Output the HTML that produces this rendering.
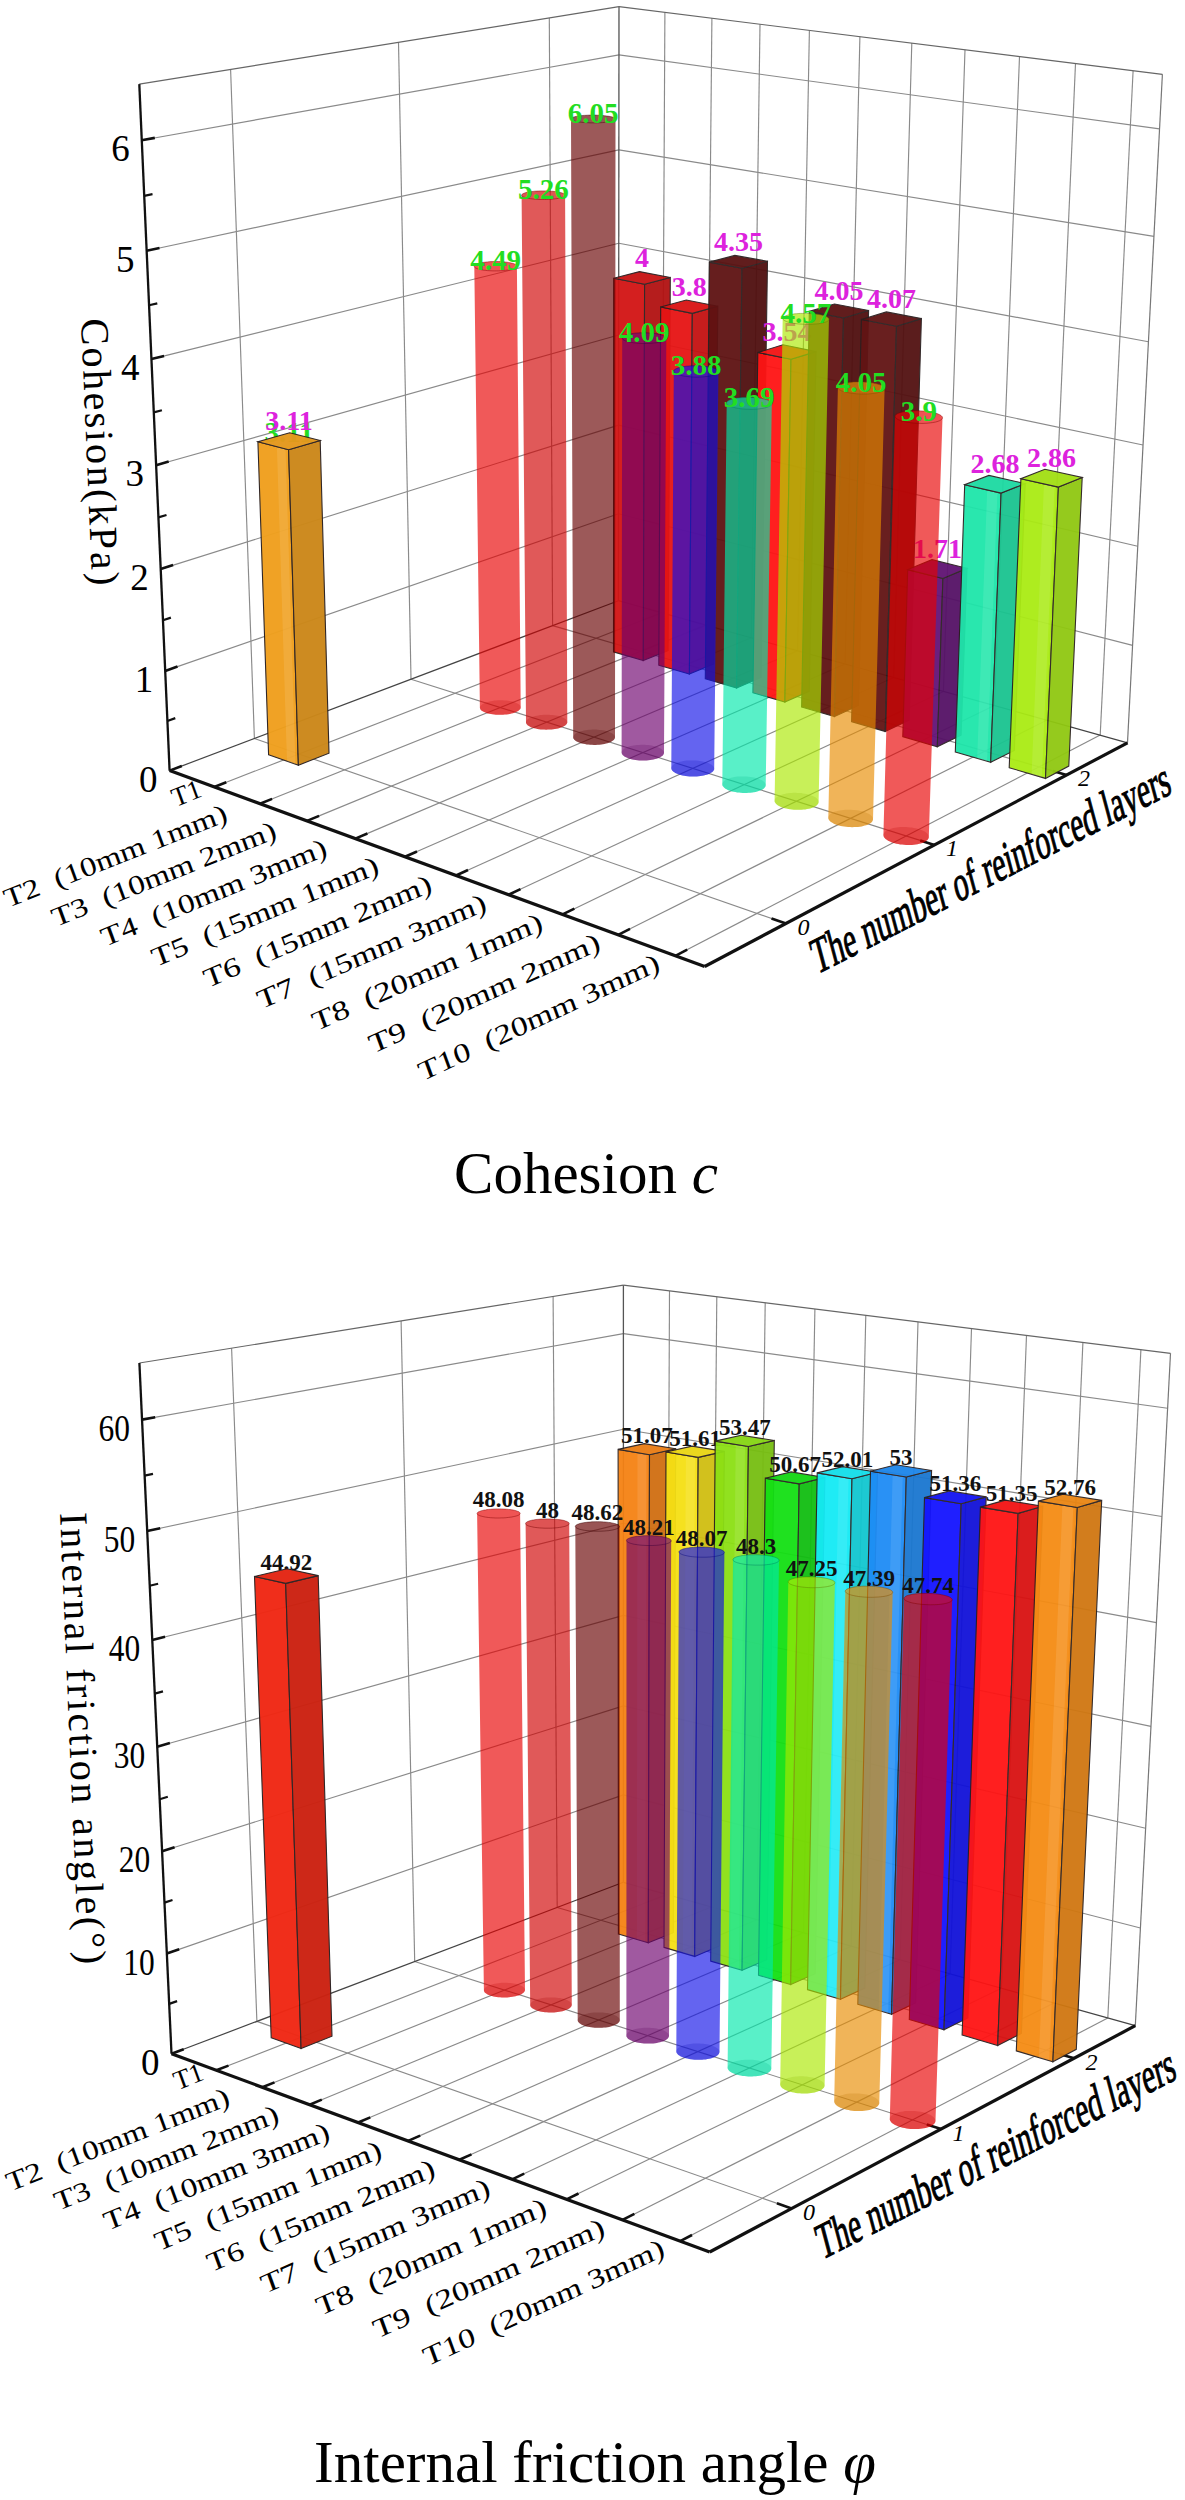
<!DOCTYPE html>
<html><head><meta charset="utf-8"><style>
html,body{margin:0;padding:0;background:#fff;}
svg{display:block;font-family:"Liberation Serif",serif;}
</style></head><body>
<svg width="1185" height="2500" viewBox="0 0 1185 2500">
<rect width="1185" height="2500" fill="#fff"/>
<line x1="254.4" y1="738.5" x2="230.6" y2="69.4" stroke="#8a8a8a" stroke-width="1.15"/>
<line x1="411.0" y1="679.2" x2="398.5" y2="42.3" stroke="#8a8a8a" stroke-width="1.15"/>
<line x1="552.6" y1="625.6" x2="549.3" y2="18.0" stroke="#8a8a8a" stroke-width="1.15"/>
<line x1="165.2" y1="670.9" x2="618.5" y2="513.7" stroke="#8a8a8a" stroke-width="1.15"/>
<line x1="160.7" y1="569.1" x2="618.6" y2="425.1" stroke="#8a8a8a" stroke-width="1.15"/>
<line x1="156.1" y1="465.2" x2="618.7" y2="335.0" stroke="#8a8a8a" stroke-width="1.15"/>
<line x1="151.4" y1="359.1" x2="618.8" y2="243.3" stroke="#8a8a8a" stroke-width="1.15"/>
<line x1="146.6" y1="250.8" x2="618.9" y2="149.9" stroke="#8a8a8a" stroke-width="1.15"/>
<line x1="141.7" y1="140.3" x2="619.0" y2="54.9" stroke="#8a8a8a" stroke-width="1.15"/>
<line x1="139.3" y1="84.1" x2="619.0" y2="6.7" stroke="#666" stroke-width="1.2"/>
<line x1="661.7" y1="612.8" x2="664.9" y2="12.4" stroke="#8a8a8a" stroke-width="1.15"/>
<line x1="706.0" y1="625.1" x2="711.9" y2="18.3" stroke="#8a8a8a" stroke-width="1.15"/>
<line x1="751.3" y1="637.8" x2="760.0" y2="24.3" stroke="#8a8a8a" stroke-width="1.15"/>
<line x1="797.6" y1="650.7" x2="809.4" y2="30.4" stroke="#8a8a8a" stroke-width="1.15"/>
<line x1="845.1" y1="664.0" x2="859.9" y2="36.7" stroke="#8a8a8a" stroke-width="1.15"/>
<line x1="893.7" y1="677.5" x2="911.8" y2="43.1" stroke="#8a8a8a" stroke-width="1.15"/>
<line x1="943.4" y1="691.4" x2="965.0" y2="49.8" stroke="#8a8a8a" stroke-width="1.15"/>
<line x1="994.4" y1="705.6" x2="1019.5" y2="56.5" stroke="#8a8a8a" stroke-width="1.15"/>
<line x1="1046.6" y1="720.2" x2="1075.5" y2="63.5" stroke="#8a8a8a" stroke-width="1.15"/>
<line x1="1100.2" y1="735.1" x2="1133.1" y2="70.7" stroke="#8a8a8a" stroke-width="1.15"/>
<line x1="618.5" y1="513.7" x2="1132.6" y2="645.4" stroke="#8a8a8a" stroke-width="1.15"/>
<line x1="618.6" y1="425.1" x2="1137.7" y2="546.2" stroke="#8a8a8a" stroke-width="1.15"/>
<line x1="618.7" y1="335.0" x2="1143.0" y2="445.0" stroke="#8a8a8a" stroke-width="1.15"/>
<line x1="618.8" y1="243.3" x2="1148.4" y2="341.8" stroke="#8a8a8a" stroke-width="1.15"/>
<line x1="618.9" y1="149.9" x2="1153.9" y2="236.4" stroke="#8a8a8a" stroke-width="1.15"/>
<line x1="619.0" y1="54.9" x2="1159.5" y2="128.9" stroke="#8a8a8a" stroke-width="1.15"/>
<line x1="619.0" y1="6.7" x2="1162.4" y2="74.3" stroke="#666" stroke-width="1.2"/>
<line x1="1127.5" y1="742.8" x2="1162.4" y2="74.3" stroke="#777" stroke-width="1.2"/>
<line x1="618.4" y1="600.7" x2="619.0" y2="6.7" stroke="#555" stroke-width="1.3"/>
<line x1="214.2" y1="787.0" x2="661.7" y2="612.8" stroke="#8a8a8a" stroke-width="1.15"/>
<line x1="260.0" y1="803.7" x2="706.0" y2="625.1" stroke="#8a8a8a" stroke-width="1.15"/>
<line x1="307.0" y1="820.9" x2="751.3" y2="637.8" stroke="#8a8a8a" stroke-width="1.15"/>
<line x1="355.3" y1="838.6" x2="797.6" y2="650.7" stroke="#8a8a8a" stroke-width="1.15"/>
<line x1="405.0" y1="856.8" x2="845.1" y2="664.0" stroke="#8a8a8a" stroke-width="1.15"/>
<line x1="456.0" y1="875.5" x2="893.7" y2="677.5" stroke="#8a8a8a" stroke-width="1.15"/>
<line x1="508.5" y1="894.7" x2="943.4" y2="691.4" stroke="#8a8a8a" stroke-width="1.15"/>
<line x1="562.6" y1="914.4" x2="994.4" y2="705.6" stroke="#8a8a8a" stroke-width="1.15"/>
<line x1="618.2" y1="934.8" x2="1046.6" y2="720.2" stroke="#8a8a8a" stroke-width="1.15"/>
<line x1="675.4" y1="955.8" x2="1100.2" y2="735.1" stroke="#8a8a8a" stroke-width="1.15"/>
<line x1="254.4" y1="738.5" x2="786.0" y2="923.5" stroke="#8a8a8a" stroke-width="1.15"/>
<line x1="411.0" y1="679.2" x2="934.4" y2="844.9" stroke="#8a8a8a" stroke-width="1.15"/>
<line x1="552.6" y1="625.6" x2="1066.6" y2="774.9" stroke="#8a8a8a" stroke-width="1.15"/>
<line x1="169.6" y1="770.6" x2="618.4" y2="600.7" stroke="#444" stroke-width="1.2"/>
<line x1="618.4" y1="600.7" x2="1127.5" y2="742.8" stroke="#444" stroke-width="1.2"/>
<line x1="169.6" y1="770.6" x2="139.3" y2="84.1" stroke="#111" stroke-width="2.3"/>
<line x1="169.6" y1="770.6" x2="704.7" y2="966.5" stroke="#111" stroke-width="3.2"/>
<line x1="704.7" y1="966.5" x2="1127.5" y2="742.8" stroke="#111" stroke-width="3.2"/>
<line x1="165.2" y1="670.9" x2="177.5" y2="666.6" stroke="#111" stroke-width="2.6"/>
<line x1="160.7" y1="569.1" x2="173.1" y2="565.1" stroke="#111" stroke-width="2.6"/>
<line x1="156.1" y1="465.2" x2="168.7" y2="461.6" stroke="#111" stroke-width="2.6"/>
<line x1="151.4" y1="359.1" x2="164.1" y2="356.0" stroke="#111" stroke-width="2.6"/>
<line x1="146.6" y1="250.8" x2="159.5" y2="248.1" stroke="#111" stroke-width="2.6"/>
<line x1="141.7" y1="140.3" x2="154.8" y2="137.9" stroke="#111" stroke-width="2.6"/>
<line x1="169.6" y1="770.6" x2="181.8" y2="766.0" stroke="#111" stroke-width="2.6"/>
<line x1="167.4" y1="721.0" x2="175.3" y2="718.1" stroke="#111" stroke-width="2.2"/>
<line x1="163.0" y1="620.2" x2="170.9" y2="617.6" stroke="#111" stroke-width="2.2"/>
<line x1="158.4" y1="517.4" x2="166.5" y2="515.0" stroke="#111" stroke-width="2.2"/>
<line x1="153.8" y1="412.4" x2="161.9" y2="410.3" stroke="#111" stroke-width="2.2"/>
<line x1="149.0" y1="305.3" x2="157.3" y2="303.4" stroke="#111" stroke-width="2.2"/>
<line x1="144.2" y1="195.8" x2="152.5" y2="194.2" stroke="#111" stroke-width="2.2"/>
<line x1="214.2" y1="787.0" x2="226.3" y2="782.2" stroke="#111" stroke-width="2.6"/>
<line x1="260.0" y1="803.7" x2="272.1" y2="798.9" stroke="#111" stroke-width="2.6"/>
<line x1="307.0" y1="820.9" x2="319.1" y2="815.9" stroke="#111" stroke-width="2.6"/>
<line x1="355.3" y1="838.6" x2="367.4" y2="833.5" stroke="#111" stroke-width="2.6"/>
<line x1="405.0" y1="856.8" x2="417.0" y2="851.5" stroke="#111" stroke-width="2.6"/>
<line x1="456.0" y1="875.5" x2="468.0" y2="870.0" stroke="#111" stroke-width="2.6"/>
<line x1="508.5" y1="894.7" x2="520.5" y2="889.1" stroke="#111" stroke-width="2.6"/>
<line x1="562.6" y1="914.4" x2="574.4" y2="908.7" stroke="#111" stroke-width="2.6"/>
<line x1="618.2" y1="934.8" x2="630.0" y2="928.9" stroke="#111" stroke-width="2.6"/>
<line x1="675.4" y1="955.8" x2="687.2" y2="949.7" stroke="#111" stroke-width="2.6"/>
<line x1="786.0" y1="923.5" x2="771.5" y2="918.4" stroke="#111" stroke-width="2.6"/>
<line x1="934.4" y1="844.9" x2="920.2" y2="840.4" stroke="#111" stroke-width="2.6"/>
<line x1="1066.6" y1="774.9" x2="1052.8" y2="770.9" stroke="#111" stroke-width="2.6"/>
<text x="642.0" y="266.9" fill="#dd22dd" font-size="28" font-weight="bold" text-anchor="middle">4</text>
<g opacity="0.95">
<polygon points="613.5,651.9 643.3,660.6 644.6,284.3 613.7,278.3" fill="#d21414" stroke="#2a2020" stroke-width="1.1"/>
<polygon points="643.3,660.6 668.1,650.6 670.3,277.5 644.6,284.3" fill="#b21111" stroke="#2a2020" stroke-width="1.1"/>
<polygon points="613.7,278.3 644.6,284.3 670.3,277.5 639.5,271.6" fill="#c81313" stroke="#2a2020" stroke-width="1.1"/>
</g>
<text x="689.3" y="295.6" fill="#dd22dd" font-size="28" font-weight="bold" text-anchor="middle">3.8</text>
<g opacity="0.95">
<polygon points="658.8,665.2 689.4,674.1 692.3,313.4 660.7,307.0" fill="#e61414" stroke="#2a2020" stroke-width="1.1"/>
<polygon points="689.4,674.1 714.0,663.8 717.8,306.2 692.3,313.4" fill="#c41111" stroke="#2a2020" stroke-width="1.1"/>
<polygon points="660.7,307.0 692.3,313.4 717.8,306.2 686.3,300.0" fill="#da1313" stroke="#2a2020" stroke-width="1.1"/>
</g>
<text x="738.4" y="250.7" fill="#dd22dd" font-size="28" font-weight="bold" text-anchor="middle">4.35</text>
<g opacity="0.95">
<polygon points="705.3,678.8 736.6,687.9 742.0,268.2 709.3,262.1" fill="#5e1212" stroke="#2a2020" stroke-width="1.1"/>
<polygon points="736.6,687.9 761.1,677.4 767.5,261.3 742.0,268.2" fill="#500f0f" stroke="#2a2020" stroke-width="1.1"/>
<polygon points="709.3,262.1 742.0,268.2 767.5,261.3 734.9,255.4" fill="#591111" stroke="#2a2020" stroke-width="1.1"/>
</g>
<text x="787.0" y="341.0" fill="#dd22dd" font-size="28" font-weight="bold" text-anchor="middle">3.54</text>
<g opacity="0.95">
<polygon points="752.9,692.7 784.9,702.1 791.0,359.3 757.8,352.5" fill="#ff1414" stroke="#2a2020" stroke-width="1.1"/>
<polygon points="784.9,702.1 809.3,691.3 816.1,351.6 791.0,359.3" fill="#d91111" stroke="#2a2020" stroke-width="1.1"/>
<polygon points="757.8,352.5 791.0,359.3 816.1,351.6 783.0,344.8" fill="#f21313" stroke="#2a2020" stroke-width="1.1"/>
</g>
<text x="839.0" y="300.0" fill="#dd22dd" font-size="28" font-weight="bold" text-anchor="middle">4.05</text>
<g opacity="0.95">
<polygon points="801.6,707.0 834.5,716.6 843.5,318.0 809.3,311.4" fill="#5e1212" stroke="#2a2020" stroke-width="1.1"/>
<polygon points="834.5,716.6 858.6,705.5 868.6,310.5 843.5,318.0" fill="#500f0f" stroke="#2a2020" stroke-width="1.1"/>
<polygon points="809.3,311.4 843.5,318.0 868.6,310.5 834.5,304.0" fill="#591111" stroke="#2a2020" stroke-width="1.1"/>
</g>
<text x="891.4" y="308.0" fill="#dd22dd" font-size="28" font-weight="bold" text-anchor="middle">4.07</text>
<g opacity="0.95">
<polygon points="851.6,721.6 885.2,731.4 896.5,326.2 861.4,319.5" fill="#621414" stroke="#2a2020" stroke-width="1.1"/>
<polygon points="885.2,731.4 909.2,720.1 921.4,318.6 896.5,326.2" fill="#531111" stroke="#2a2020" stroke-width="1.1"/>
<polygon points="861.4,319.5 896.5,326.2 921.4,318.6 886.4,311.9" fill="#5d1313" stroke="#2a2020" stroke-width="1.1"/>
</g>
<text x="937.4" y="558.0" fill="#dd22dd" font-size="28" font-weight="bold" text-anchor="middle">1.71</text>
<g opacity="0.95">
<polygon points="902.8,736.6 937.3,746.7 942.9,578.5 907.7,569.6" fill="#641478" stroke="#2a2020" stroke-width="1.1"/>
<polygon points="937.3,746.7 961.1,735.1 967.0,568.3 942.9,578.5" fill="#551166" stroke="#2a2020" stroke-width="1.1"/>
<polygon points="907.7,569.6 942.9,578.5 967.0,568.3 932.0,559.7" fill="#5f1372" stroke="#2a2020" stroke-width="1.1"/>
</g>
<text x="994.9" y="473.2" fill="#dd22dd" font-size="28" font-weight="bold" text-anchor="middle">2.68</text>
<g opacity="0.95">
<polygon points="955.3,752.0 990.7,762.3 1001.1,493.1 964.7,484.7" fill="#1ee6aa" stroke="#2a2020" stroke-width="1.1"/>
<polygon points="977.2,758.4 987.1,761.3 997.4,492.2 987.2,489.9" fill="#ffffff" opacity="0.10"/>
<polygon points="990.7,762.3 1014.3,750.4 1025.2,483.6 1001.1,493.1" fill="#1ac490" stroke="#2a2020" stroke-width="1.1"/>
<polygon points="964.7,484.7 1001.1,493.1 1025.2,483.6 988.9,475.4" fill="#1cdaa2" stroke="#2a2020" stroke-width="1.1"/>
</g>
<text x="1051.6" y="467.1" fill="#dd22dd" font-size="28" font-weight="bold" text-anchor="middle">2.86</text>
<g opacity="0.95">
<polygon points="1009.2,767.7 1045.5,778.4 1058.4,487.1 1020.9,478.7" fill="#aaeb14" stroke="#2a2020" stroke-width="1.1"/>
<polygon points="1031.6,774.3 1041.8,777.3 1054.6,486.3 1044.0,483.9" fill="#ffffff" opacity="0.10"/>
<polygon points="1045.5,778.4 1068.8,766.1 1082.2,477.5 1058.4,487.1" fill="#90c811" stroke="#2a2020" stroke-width="1.1"/>
<polygon points="1020.9,478.7 1058.4,487.1 1082.2,477.5 1044.9,469.3" fill="#a2df13" stroke="#2a2020" stroke-width="1.1"/>
</g>
<text x="289.1" y="442.1" fill="#22dd22" font-size="29" font-weight="bold" text-anchor="middle">3.11</text>
<g opacity="0.97">
<polygon points="268.6,754.8 298.4,765.2 288.6,449.7 257.9,441.7" fill="#f0a01e" stroke="#2a2020" stroke-width="1.1"/>
<polygon points="287.0,761.3 295.4,764.2 285.5,448.9 276.9,446.6" fill="#ffffff" opacity="0.10"/>
<polygon points="298.4,765.2 329.0,753.2 320.2,440.5 288.6,449.7" fill="#cc881a" stroke="#2a2020" stroke-width="1.1"/>
<polygon points="257.9,441.7 288.6,449.7 320.2,440.5 289.7,432.7" fill="#e4981c" stroke="#2a2020" stroke-width="1.1"/>
</g>
<text x="289.1" y="430.1" fill="#dd22dd" font-size="28" font-weight="bold" text-anchor="middle">3.11</text>
<g opacity="0.65">
<polygon points="479.9,708.0 474.3,266.5 474.3,266.1 474.4,265.7 474.8,265.2 475.3,264.8 475.9,264.5 476.7,264.1 477.6,263.7 478.7,263.4 479.9,263.1 481.2,262.8 482.6,262.5 484.1,262.3 485.7,262.1 487.4,261.9 489.2,261.7 490.9,261.6 492.8,261.6 494.6,261.5 496.4,261.5 498.3,261.5 500.1,261.6 501.9,261.7 503.6,261.8 505.3,262.0 506.9,262.2 508.4,262.4 509.9,262.7 511.2,263.0 512.4,263.3 513.5,263.6 514.4,263.9 515.2,264.3 515.8,264.7 516.3,265.1 516.7,265.5 516.8,265.9 516.9,266.3 520.7,707.6 520.6,708.2 520.3,708.9 519.8,709.5 519.2,710.1 518.5,710.7 517.6,711.2 516.6,711.8 515.5,712.3 514.2,712.8 512.9,713.2 511.4,713.6 509.9,713.9 508.2,714.2 506.6,714.4 504.8,714.6 503.1,714.7 501.3,714.8 499.5,714.8 497.7,714.8 495.9,714.7 494.2,714.5 492.5,714.3 490.9,714.1 489.3,713.8 487.9,713.4 486.5,713.0 485.2,712.6 484.1,712.1 483.1,711.6 482.2,711.0 481.4,710.5 480.8,709.9 480.4,709.3 480.1,708.6" fill="#e80000"/>
</g>
<polygon points="515.5,712.3 516.6,711.8 517.6,711.2 518.5,710.7 519.2,710.1 519.8,709.5 520.3,708.9 520.6,708.2 520.7,707.6 520.7,707.0 520.5,706.3 520.2,705.7 519.7,705.1 519.1,704.5 518.3,704.0 517.4,703.4 516.4,702.9 515.3,702.4 514.0,702.0 512.6,701.6 511.2,701.3 509.6,701.0 508.0,700.7 506.4,700.5 504.6,700.4 502.9,700.3 501.1,700.2 499.4,700.3 497.6,700.3 495.9,700.5 494.2,700.6 492.5,700.9 490.9,701.2 489.4,701.5 487.9,701.9 486.5,702.3 485.3,702.7 484.1,703.2 483.1,703.7 482.2,704.3 481.5,704.9 480.9,705.5 480.4,706.1 480.1,706.7 479.9,707.4 479.9,708.0 480.1,708.6 480.4,709.3 480.8,709.9 481.4,710.5 482.2,711.0 483.1,711.6 484.1,712.1 485.2,712.6 486.5,713.0 487.9,713.4 489.3,713.8 490.9,714.1 492.5,714.3 494.2,714.5 495.9,714.7 497.7,714.8 499.5,714.8 501.3,714.8 503.1,714.7 504.8,714.6 506.6,714.4 508.2,714.2 509.9,713.9 511.4,713.6 512.9,713.2 514.2,712.8" fill="#ba0000" opacity="0.22"/>
<polygon points="511.4,269.3 512.6,269.0 513.6,268.7 514.5,268.3 515.3,267.9 515.9,267.5 516.4,267.1 516.7,266.7 516.9,266.3 516.8,265.9 516.7,265.5 516.3,265.1 515.8,264.7 515.2,264.3 514.4,263.9 513.5,263.6 512.4,263.3 511.2,263.0 509.9,262.7 508.4,262.4 506.9,262.2 505.3,262.0 503.6,261.8 501.9,261.7 500.1,261.6 498.3,261.5 496.4,261.5 494.6,261.5 492.8,261.6 490.9,261.6 489.2,261.7 487.4,261.9 485.7,262.1 484.1,262.3 482.6,262.5 481.2,262.8 479.9,263.1 478.7,263.4 477.6,263.7 476.7,264.1 475.9,264.5 475.3,264.8 474.8,265.2 474.4,265.7 474.3,266.1 474.3,266.5 474.4,266.9 474.7,267.3 475.2,267.7 475.8,268.1 476.6,268.4 477.5,268.8 478.6,269.1 479.8,269.4 481.1,269.7 482.5,270.0 484.1,270.2 485.7,270.4 487.4,270.6 489.1,270.7 491.0,270.8 492.8,270.9 494.7,270.9 496.5,270.9 498.4,270.9 500.2,270.8 502.0,270.7 503.8,270.5 505.5,270.3 507.1,270.1 508.6,269.9 510.1,269.6" fill="#ed3333" fill-opacity="0.12" stroke="#800000" stroke-width="1" stroke-opacity="0.45"/>
<g opacity="0.65">
<polygon points="565.1,195.3 567.3,722.3 567.2,722.9 566.9,723.6 566.5,724.2 565.9,724.8 565.2,725.4 564.3,726.0 563.3,726.5 562.2,727.1 560.9,727.5 559.6,728.0 558.1,728.4 556.5,728.7 554.9,729.0 553.2,729.3 551.5,729.4 549.7,729.6 547.9,729.6 546.1,729.7 544.3,729.6 542.5,729.5 540.7,729.4 539.0,729.2 537.4,728.9 535.8,728.6 534.3,728.2 532.9,727.8 531.6,727.4 530.4,726.9 529.3,726.3 528.4,725.8 527.6,725.2 527.0,724.6 526.5,724.0 526.2,723.3 526.0,722.7 526.0,722.0 521.6,195.0 521.8,194.7 522.1,194.3 522.6,193.9 523.2,193.6 524.0,193.2 524.9,192.9 526.0,192.6 527.2,192.3 528.5,192.0 529.9,191.8 531.5,191.6 533.1,191.4 534.8,191.2 536.5,191.1 538.4,191.0 540.2,190.9 542.1,190.9 544.0,190.9 545.9,190.9 547.7,191.0 549.5,191.0 551.3,191.2 553.1,191.3 554.7,191.5 556.3,191.7 557.7,192.0 559.1,192.2 560.3,192.5 561.5,192.8 562.4,193.1 563.3,193.5 564.0,193.8 564.5,194.2 564.9,194.5 565.1,194.9" fill="#d00000"/>
</g>
<polygon points="562.2,727.1 563.3,726.5 564.3,726.0 565.2,725.4 565.9,724.8 566.5,724.2 566.9,723.6 567.2,722.9 567.3,722.3 567.2,721.6 567.0,721.0 566.7,720.3 566.2,719.7 565.5,719.1 564.7,718.5 563.8,718.0 562.7,717.5 561.5,717.0 560.3,716.5 558.9,716.1 557.4,715.8 555.8,715.5 554.2,715.2 552.5,715.0 550.7,714.9 549.0,714.8 547.2,714.7 545.4,714.7 543.6,714.8 541.8,714.9 540.1,715.1 538.4,715.4 536.8,715.7 535.3,716.0 533.8,716.4 532.5,716.8 531.2,717.3 530.1,717.8 529.1,718.3 528.2,718.9 527.5,719.5 526.9,720.1 526.4,720.7 526.1,721.4 526.0,722.0 526.0,722.7 526.2,723.3 526.5,724.0 527.0,724.6 527.6,725.2 528.4,725.8 529.3,726.3 530.4,726.9 531.6,727.4 532.9,727.8 534.3,728.2 535.8,728.6 537.4,728.9 539.0,729.2 540.7,729.4 542.5,729.5 544.3,729.6 546.1,729.7 547.9,729.6 549.7,729.6 551.5,729.4 553.2,729.3 554.9,729.0 556.5,728.7 558.1,728.4 559.6,728.0 560.9,727.5" fill="#a60000" opacity="0.22"/>
<polygon points="559.7,198.1 560.9,197.8 562.0,197.5 562.9,197.1 563.7,196.8 564.3,196.4 564.7,196.0 565.0,195.7 565.1,195.3 565.1,194.9 564.9,194.5 564.5,194.2 564.0,193.8 563.3,193.5 562.4,193.1 561.5,192.8 560.3,192.5 559.1,192.2 557.7,192.0 556.3,191.7 554.7,191.5 553.1,191.3 551.3,191.2 549.5,191.0 547.7,191.0 545.9,190.9 544.0,190.9 542.1,190.9 540.2,190.9 538.4,191.0 536.5,191.1 534.8,191.2 533.1,191.4 531.5,191.6 529.9,191.8 528.5,192.0 527.2,192.3 526.0,192.6 524.9,192.9 524.0,193.2 523.2,193.6 522.6,193.9 522.1,194.3 521.8,194.7 521.6,195.0 521.7,195.4 521.8,195.8 522.2,196.2 522.7,196.5 523.4,196.9 524.2,197.2 525.2,197.6 526.3,197.9 527.5,198.2 528.9,198.4 530.4,198.7 531.9,198.9 533.6,199.1 535.3,199.2 537.2,199.3 539.0,199.4 540.9,199.5 542.8,199.5 544.7,199.5 546.6,199.5 548.5,199.4 550.3,199.3 552.1,199.2 553.8,199.0 555.4,198.8 557.0,198.6 558.4,198.3" fill="#d93333" fill-opacity="0.12" stroke="#720000" stroke-width="1" stroke-opacity="0.45"/>
<g opacity="0.65">
<polygon points="615.5,119.1 615.0,737.3 614.9,738.0 614.7,738.6 614.3,739.3 613.7,739.9 613.0,740.5 612.2,741.1 611.2,741.7 610.0,742.2 608.8,742.7 607.4,743.2 606.0,743.6 604.4,743.9 602.8,744.2 601.1,744.5 599.3,744.7 597.5,744.8 595.7,744.9 593.9,744.9 592.0,744.8 590.2,744.7 588.4,744.6 586.7,744.4 585.0,744.1 583.4,743.8 581.9,743.4 580.4,743.0 579.1,742.5 577.9,742.0 576.8,741.5 575.8,740.9 575.0,740.3 574.3,739.7 573.8,739.0 573.4,738.4 573.2,737.7 573.2,737.0 571.0,118.8 571.2,118.5 571.4,118.2 571.9,117.8 572.5,117.5 573.3,117.2 574.2,116.9 575.3,116.6 576.5,116.4 577.8,116.1 579.2,115.9 580.8,115.7 582.4,115.5 584.2,115.4 585.9,115.3 587.8,115.2 589.7,115.1 591.6,115.1 593.5,115.1 595.4,115.1 597.3,115.2 599.2,115.3 601.0,115.4 602.8,115.5 604.5,115.7 606.1,115.9 607.6,116.1 609.1,116.3 610.4,116.6 611.5,116.8 612.5,117.1 613.4,117.4 614.2,117.8 614.7,118.1 615.1,118.4 615.4,118.8" fill="#670000"/>
</g>
<polygon points="610.0,742.2 611.2,741.7 612.2,741.1 613.0,740.5 613.7,739.9 614.3,739.3 614.7,738.6 614.9,738.0 615.0,737.3 614.9,736.6 614.7,736.0 614.3,735.3 613.8,734.7 613.1,734.1 612.3,733.5 611.3,732.9 610.2,732.4 609.0,731.9 607.7,731.4 606.2,731.0 604.7,730.6 603.1,730.3 601.4,730.1 599.7,729.9 597.9,729.7 596.2,729.6 594.3,729.6 592.5,729.6 590.7,729.7 589.0,729.8 587.2,730.0 585.5,730.2 583.9,730.5 582.4,730.9 580.9,731.3 579.6,731.7 578.3,732.2 577.2,732.7 576.2,733.2 575.3,733.8 574.6,734.4 574.0,735.1 573.6,735.7 573.3,736.4 573.2,737.0 573.2,737.7 573.4,738.4 573.8,739.0 574.3,739.7 575.0,740.3 575.8,740.9 576.8,741.5 577.9,742.0 579.1,742.5 580.4,743.0 581.9,743.4 583.4,743.8 585.0,744.1 586.7,744.4 588.4,744.6 590.2,744.7 592.0,744.8 593.9,744.9 595.7,744.9 597.5,744.8 599.3,744.7 601.1,744.5 602.8,744.2 604.4,743.9 606.0,743.6 607.4,743.2 608.8,742.7" fill="#520000" opacity="0.22"/>
<polygon points="610.2,121.6 611.4,121.3 612.4,121.0 613.3,120.7 614.1,120.4 614.7,120.1 615.1,119.8 615.4,119.4 615.5,119.1 615.4,118.8 615.1,118.4 614.7,118.1 614.2,117.8 613.4,117.4 612.5,117.1 611.5,116.8 610.4,116.6 609.1,116.3 607.6,116.1 606.1,115.9 604.5,115.7 602.8,115.5 601.0,115.4 599.2,115.3 597.3,115.2 595.4,115.1 593.5,115.1 591.6,115.1 589.7,115.1 587.8,115.2 585.9,115.3 584.2,115.4 582.4,115.5 580.8,115.7 579.2,115.9 577.8,116.1 576.5,116.4 575.3,116.6 574.2,116.9 573.3,117.2 572.5,117.5 571.9,117.8 571.4,118.2 571.2,118.5 571.0,118.8 571.1,119.2 571.3,119.5 571.7,119.8 572.2,120.2 572.9,120.5 573.8,120.8 574.8,121.1 576.0,121.4 577.3,121.6 578.7,121.9 580.2,122.1 581.8,122.3 583.6,122.5 585.4,122.6 587.2,122.7 589.1,122.8 591.0,122.9 593.0,122.9 594.9,122.9 596.9,122.8 598.8,122.8 600.6,122.7 602.5,122.6 604.2,122.4 605.8,122.2 607.4,122.0 608.8,121.8" fill="#853333" fill-opacity="0.12" stroke="#390000" stroke-width="1" stroke-opacity="0.45"/>
<g opacity="0.65">
<polygon points="621.6,752.5 622.2,338.0 622.3,337.5 622.5,337.0 623.0,336.6 623.5,336.1 624.3,335.7 625.2,335.3 626.2,334.9 627.4,334.6 628.7,334.2 630.1,333.9 631.6,333.7 633.2,333.4 634.9,333.2 636.7,333.0 638.5,332.9 640.4,332.8 642.2,332.8 644.2,332.8 646.1,332.8 648.0,332.9 649.8,333.0 651.7,333.1 653.4,333.3 655.1,333.5 656.8,333.8 658.3,334.1 659.7,334.4 661.0,334.8 662.2,335.1 663.2,335.5 664.1,336.0 664.9,336.4 665.5,336.8 665.9,337.3 666.2,337.8 666.3,338.2 664.0,752.7 663.9,753.4 663.7,754.1 663.3,754.7 662.8,755.4 662.1,756.0 661.2,756.6 660.2,757.2 659.1,757.8 657.9,758.3 656.5,758.7 655.1,759.1 653.5,759.5 651.9,759.8 650.2,760.1 648.4,760.3 646.6,760.4 644.7,760.5 642.9,760.5 641.0,760.5 639.2,760.4 637.4,760.2 635.6,760.0 633.9,759.7 632.2,759.4 630.6,759.0 629.2,758.6 627.8,758.1 626.6,757.6 625.4,757.0 624.4,756.4 623.6,755.8 622.9,755.2 622.3,754.5 621.9,753.8 621.7,753.1" fill="#6d006d"/>
</g>
<polygon points="659.1,757.8 660.2,757.2 661.2,756.6 662.1,756.0 662.8,755.4 663.3,754.7 663.7,754.1 663.9,753.4 664.0,752.7 663.9,752.0 663.6,751.3 663.2,750.7 662.6,750.0 661.9,749.4 661.0,748.8 660.0,748.2 658.9,747.7 657.6,747.1 656.3,746.7 654.8,746.3 653.3,745.9 651.6,745.6 649.9,745.3 648.2,745.1 646.4,744.9 644.6,744.8 642.7,744.8 640.9,744.8 639.1,744.9 637.3,745.0 635.5,745.2 633.8,745.5 632.2,745.8 630.6,746.1 629.2,746.5 627.8,747.0 626.6,747.5 625.5,748.0 624.5,748.6 623.6,749.2 622.9,749.8 622.4,750.4 621.9,751.1 621.7,751.8 621.6,752.5 621.7,753.1 621.9,753.8 622.3,754.5 622.9,755.2 623.6,755.8 624.4,756.4 625.4,757.0 626.6,757.6 627.8,758.1 629.2,758.6 630.6,759.0 632.2,759.4 633.9,759.7 635.6,760.0 637.4,760.2 639.2,760.4 641.0,760.5 642.9,760.5 644.7,760.5 646.6,760.4 648.4,760.3 650.2,760.1 651.9,759.8 653.5,759.5 655.1,759.1 656.5,758.7 657.9,758.3" fill="#570057" opacity="0.22"/>
<polygon points="661.3,341.7 662.4,341.3 663.5,340.9 664.3,340.5 665.1,340.1 665.6,339.6 666.0,339.2 666.2,338.7 666.3,338.2 666.2,337.8 665.9,337.3 665.5,336.8 664.9,336.4 664.1,336.0 663.2,335.5 662.2,335.1 661.0,334.8 659.7,334.4 658.3,334.1 656.8,333.8 655.1,333.5 653.4,333.3 651.7,333.1 649.8,333.0 648.0,332.9 646.1,332.8 644.2,332.8 642.2,332.8 640.4,332.8 638.5,332.9 636.7,333.0 634.9,333.2 633.2,333.4 631.6,333.7 630.1,333.9 628.7,334.2 627.4,334.6 626.2,334.9 625.2,335.3 624.3,335.7 623.5,336.1 623.0,336.6 622.5,337.0 622.3,337.5 622.2,338.0 622.3,338.4 622.5,338.9 622.9,339.4 623.5,339.8 624.2,340.3 625.1,340.7 626.2,341.1 627.3,341.5 628.6,341.8 630.1,342.1 631.6,342.4 633.2,342.7 634.9,342.9 636.7,343.1 638.6,343.3 640.5,343.4 642.4,343.5 644.3,343.5 646.3,343.5 648.2,343.4 650.1,343.3 651.9,343.2 653.7,343.0 655.4,342.8 657.0,342.6 658.6,342.3 660.0,342.0" fill="#8a338a" fill-opacity="0.12" stroke="#3c003c" stroke-width="1" stroke-opacity="0.45"/>
<g opacity="0.65">
<polygon points="671.3,768.3 673.8,371.3 673.9,370.8 674.1,370.3 674.5,369.8 675.1,369.3 675.8,368.9 676.7,368.5 677.7,368.1 678.8,367.7 680.1,367.3 681.5,367.0 683.0,366.7 684.7,366.5 686.4,366.2 688.1,366.1 690.0,365.9 691.8,365.8 693.8,365.8 695.7,365.8 697.6,365.8 699.5,365.9 701.4,366.0 703.3,366.2 705.1,366.4 706.8,366.6 708.5,366.9 710.1,367.2 711.5,367.5 712.9,367.9 714.1,368.3 715.2,368.7 716.1,369.1 716.9,369.6 717.5,370.1 718.0,370.5 718.3,371.0 718.4,371.5 714.2,768.5 714.2,769.2 714.0,769.9 713.6,770.6 713.1,771.3 712.4,771.9 711.6,772.6 710.6,773.1 709.5,773.7 708.3,774.2 706.9,774.7 705.4,775.1 703.9,775.5 702.2,775.8 700.5,776.1 698.7,776.3 696.9,776.4 695.0,776.5 693.1,776.5 691.3,776.5 689.4,776.4 687.5,776.2 685.7,776.0 684.0,775.7 682.3,775.4 680.7,775.0 679.2,774.5 677.8,774.0 676.5,773.5 675.3,772.9 674.3,772.3 673.4,771.7 672.7,771.0 672.1,770.4 671.7,769.7 671.4,769.0" fill="#1111e8"/>
</g>
<polygon points="709.5,773.7 710.6,773.1 711.6,772.6 712.4,771.9 713.1,771.3 713.6,770.6 714.0,769.9 714.2,769.2 714.2,768.5 714.1,767.8 713.8,767.1 713.3,766.4 712.7,765.8 712.0,765.1 711.1,764.5 710.0,763.9 708.8,763.3 707.5,762.8 706.1,762.3 704.6,761.9 703.1,761.5 701.4,761.2 699.6,760.9 697.9,760.7 696.0,760.5 694.2,760.4 692.3,760.4 690.5,760.4 688.6,760.5 686.8,760.6 685.1,760.8 683.4,761.1 681.7,761.4 680.2,761.7 678.7,762.2 677.4,762.6 676.1,763.1 675.0,763.7 674.0,764.3 673.2,764.9 672.5,765.5 671.9,766.2 671.6,766.9 671.3,767.6 671.3,768.3 671.4,769.0 671.7,769.7 672.1,770.4 672.7,771.0 673.4,771.7 674.3,772.3 675.3,772.9 676.5,773.5 677.8,774.0 679.2,774.5 680.7,775.0 682.3,775.4 684.0,775.7 685.7,776.0 687.5,776.2 689.4,776.4 691.3,776.5 693.1,776.5 695.0,776.5 696.9,776.4 698.7,776.3 700.5,776.1 702.2,775.8 703.9,775.5 705.4,775.1 706.9,774.7 708.3,774.2" fill="#0e0eba" opacity="0.22"/>
<polygon points="713.6,375.1 714.7,374.8 715.7,374.3 716.6,373.9 717.3,373.5 717.8,373.0 718.2,372.5 718.4,372.0 718.4,371.5 718.3,371.0 718.0,370.5 717.5,370.1 716.9,369.6 716.1,369.1 715.2,368.7 714.1,368.3 712.9,367.9 711.5,367.5 710.1,367.2 708.5,366.9 706.8,366.6 705.1,366.4 703.3,366.2 701.4,366.0 699.5,365.9 697.6,365.8 695.7,365.8 693.8,365.8 691.8,365.8 690.0,365.9 688.1,366.1 686.4,366.2 684.7,366.5 683.0,366.7 681.5,367.0 680.1,367.3 678.8,367.7 677.7,368.1 676.7,368.5 675.8,368.9 675.1,369.3 674.5,369.8 674.1,370.3 673.9,370.8 673.8,371.3 673.9,371.8 674.2,372.2 674.7,372.7 675.3,373.2 676.0,373.7 677.0,374.1 678.0,374.5 679.3,374.9 680.6,375.3 682.1,375.7 683.6,376.0 685.3,376.3 687.1,376.5 688.9,376.7 690.8,376.9 692.7,377.0 694.6,377.1 696.6,377.1 698.5,377.1 700.5,377.0 702.4,376.9 704.2,376.8 706.0,376.6 707.7,376.4 709.4,376.1 710.9,375.8 712.3,375.5" fill="#4141ed" fill-opacity="0.12" stroke="#090980" stroke-width="1" stroke-opacity="0.45"/>
<g opacity="0.65">
<polygon points="771.8,403.4 771.8,403.9 765.7,785.5 765.5,786.2 765.2,786.9 764.7,787.6 764.1,788.2 763.3,788.9 762.3,789.5 761.2,790.1 760.0,790.6 758.6,791.1 757.1,791.5 755.6,791.9 753.9,792.2 752.2,792.5 750.4,792.7 748.5,792.8 746.7,792.9 744.8,793.0 742.8,792.9 740.9,792.8 739.1,792.6 737.2,792.4 735.4,792.1 733.7,791.8 732.1,791.4 730.5,790.9 729.1,790.4 727.8,789.9 726.6,789.3 725.5,788.7 724.6,788.0 723.8,787.3 723.2,786.6 722.7,785.9 722.4,785.2 722.3,784.5 726.7,403.2 726.7,402.6 726.9,402.1 727.3,401.6 727.8,401.1 728.5,400.7 729.3,400.2 730.3,399.8 731.5,399.4 732.8,399.0 734.2,398.7 735.7,398.4 737.3,398.1 739.0,397.9 740.8,397.7 742.6,397.6 744.5,397.5 746.5,397.4 748.4,397.4 750.4,397.4 752.3,397.5 754.2,397.6 756.1,397.8 758.0,398.0 759.7,398.2 761.4,398.5 763.0,398.9 764.5,399.2 765.9,399.6 767.2,400.0 768.3,400.5 769.3,400.9 770.1,401.4 770.8,401.9 771.3,402.4 771.6,402.9" fill="#00e8ab"/>
</g>
<polygon points="761.2,790.1 762.3,789.5 763.3,788.9 764.1,788.2 764.7,787.6 765.2,786.9 765.5,786.2 765.7,785.5 765.7,784.7 765.6,784.0 765.2,783.3 764.7,782.6 764.1,781.9 763.3,781.2 762.4,780.6 761.3,780.0 760.1,779.4 758.8,778.9 757.3,778.4 755.8,777.9 754.1,777.6 752.4,777.2 750.7,776.9 748.9,776.7 747.0,776.5 745.1,776.4 743.2,776.4 741.4,776.4 739.5,776.5 737.7,776.6 735.9,776.8 734.2,777.1 732.5,777.4 731.0,777.8 729.5,778.2 728.2,778.7 726.9,779.2 725.8,779.8 724.9,780.4 724.0,781.0 723.4,781.7 722.8,782.4 722.5,783.1 722.3,783.8 722.3,784.5 722.4,785.2 722.7,785.9 723.2,786.6 723.8,787.3 724.6,788.0 725.5,788.7 726.6,789.3 727.8,789.9 729.1,790.4 730.5,790.9 732.1,791.4 733.7,791.8 735.4,792.1 737.2,792.4 739.1,792.6 740.9,792.8 742.8,792.9 744.8,793.0 746.7,792.9 748.5,792.8 750.4,792.7 752.2,792.5 753.9,792.2 755.6,791.9 757.1,791.5 758.6,791.1 760.0,790.6" fill="#00ba89" opacity="0.22"/>
<polygon points="767.1,407.2 768.3,406.8 769.3,406.4 770.1,405.9 770.8,405.5 771.3,405.0 771.6,404.5 771.8,403.9 771.8,403.4 771.6,402.9 771.3,402.4 770.8,401.9 770.1,401.4 769.3,400.9 768.3,400.5 767.2,400.0 765.9,399.6 764.5,399.2 763.0,398.9 761.4,398.5 759.7,398.2 758.0,398.0 756.1,397.8 754.2,397.6 752.3,397.5 750.4,397.4 748.4,397.4 746.5,397.4 744.5,397.5 742.6,397.6 740.8,397.7 739.0,397.9 737.3,398.1 735.7,398.4 734.2,398.7 732.8,399.0 731.5,399.4 730.3,399.8 729.3,400.2 728.5,400.7 727.8,401.1 727.3,401.6 726.9,402.1 726.7,402.6 726.7,403.2 726.8,403.7 727.1,404.2 727.6,404.7 728.3,405.2 729.1,405.7 730.0,406.2 731.1,406.6 732.4,407.0 733.8,407.4 735.3,407.8 736.9,408.1 738.6,408.4 740.4,408.7 742.2,408.9 744.1,409.0 746.1,409.2 748.1,409.2 750.1,409.3 752.0,409.3 754.0,409.2 755.9,409.1 757.8,409.0 759.6,408.8 761.3,408.5 762.9,408.3 764.4,408.0 765.8,407.6" fill="#33edbc" fill-opacity="0.12" stroke="#00805e" stroke-width="1" stroke-opacity="0.45"/>
<g opacity="0.65">
<polygon points="828.9,319.4 818.6,802.1 818.5,802.9 818.2,803.6 817.7,804.3 817.1,805.0 816.3,805.7 815.4,806.3 814.3,806.9 813.0,807.4 811.7,807.9 810.2,808.4 808.7,808.7 807.0,809.1 805.2,809.4 803.4,809.6 801.6,809.7 799.7,809.8 797.7,809.8 795.8,809.8 793.9,809.7 792.0,809.5 790.1,809.3 788.3,809.0 786.5,808.6 784.8,808.2 783.2,807.7 781.8,807.2 780.4,806.7 779.1,806.1 778.0,805.4 777.1,804.8 776.2,804.1 775.6,803.3 775.1,802.6 774.7,801.9 774.6,801.1 774.6,800.4 782.7,318.2 782.9,317.7 783.2,317.3 783.7,316.8 784.4,316.4 785.3,316.0 786.3,315.6 787.4,315.2 788.7,314.9 790.1,314.6 791.6,314.3 793.3,314.0 795.0,313.8 796.8,313.7 798.7,313.5 800.6,313.4 802.6,313.4 804.6,313.4 806.6,313.4 808.6,313.5 810.5,313.6 812.5,313.8 814.4,313.9 816.2,314.2 818.0,314.4 819.6,314.7 821.2,315.1 822.6,315.4 823.9,315.8 825.1,316.2 826.1,316.6 827.0,317.1 827.8,317.5 828.3,318.0 828.7,318.5 828.9,319.0" fill="#abe800"/>
</g>
<polygon points="814.3,806.9 815.4,806.3 816.3,805.7 817.1,805.0 817.7,804.3 818.2,803.6 818.5,802.9 818.6,802.1 818.6,801.4 818.4,800.7 818.1,799.9 817.5,799.2 816.9,798.5 816.0,797.8 815.0,797.1 813.9,796.5 812.7,795.9 811.3,795.4 809.8,794.9 808.2,794.4 806.6,794.0 804.8,793.7 803.0,793.4 801.2,793.1 799.3,793.0 797.4,792.9 795.5,792.8 793.6,792.8 791.7,792.9 789.9,793.1 788.1,793.3 786.3,793.6 784.7,793.9 783.1,794.3 781.7,794.7 780.3,795.2 779.1,795.7 778.0,796.3 777.0,796.9 776.2,797.6 775.6,798.2 775.1,798.9 774.7,799.7 774.6,800.4 774.6,801.1 774.7,801.9 775.1,802.6 775.6,803.3 776.2,804.1 777.1,804.8 778.0,805.4 779.1,806.1 780.4,806.7 781.8,807.2 783.2,807.7 784.8,808.2 786.5,808.6 788.3,809.0 790.1,809.3 792.0,809.5 793.9,809.7 795.8,809.8 797.7,809.8 799.7,809.8 801.6,809.7 803.4,809.6 805.2,809.4 807.0,809.1 808.7,808.7 810.2,808.4 811.7,807.9 813.0,807.4" fill="#89ba00" opacity="0.22"/>
<polygon points="824.4,322.5 825.5,322.1 826.5,321.7 827.3,321.3 828.0,320.8 828.5,320.4 828.8,319.9 828.9,319.4 828.9,319.0 828.7,318.5 828.3,318.0 827.8,317.5 827.0,317.1 826.1,316.6 825.1,316.2 823.9,315.8 822.6,315.4 821.2,315.1 819.6,314.7 818.0,314.4 816.2,314.2 814.4,313.9 812.5,313.8 810.5,313.6 808.6,313.5 806.6,313.4 804.6,313.4 802.6,313.4 800.6,313.4 798.7,313.5 796.8,313.7 795.0,313.8 793.3,314.0 791.6,314.3 790.1,314.6 788.7,314.9 787.4,315.2 786.3,315.6 785.3,316.0 784.4,316.4 783.7,316.8 783.2,317.3 782.9,317.7 782.7,318.2 782.7,318.7 782.9,319.2 783.2,319.6 783.8,320.1 784.5,320.6 785.3,321.0 786.4,321.5 787.5,321.9 788.8,322.3 790.3,322.6 791.8,323.0 793.5,323.3 795.3,323.5 797.1,323.8 799.0,324.0 801.0,324.1 803.0,324.2 805.0,324.3 807.1,324.3 809.1,324.3 811.1,324.3 813.0,324.2 814.9,324.0 816.8,323.9 818.5,323.7 820.2,323.4 821.7,323.1 823.1,322.8" fill="#bced33" fill-opacity="0.12" stroke="#5e8000" stroke-width="1" stroke-opacity="0.45"/>
<g opacity="0.65">
<polygon points="884.6,388.6 873.0,819.3 872.9,820.0 872.6,820.8 872.2,821.5 871.6,822.2 870.8,822.9 869.9,823.5 868.8,824.1 867.6,824.7 866.2,825.2 864.7,825.6 863.2,826.1 861.5,826.4 859.7,826.7 857.9,826.9 856.0,827.1 854.1,827.1 852.1,827.2 850.2,827.1 848.2,827.0 846.3,826.8 844.4,826.6 842.5,826.3 840.7,825.9 839.0,825.5 837.4,825.0 835.8,824.5 834.4,823.9 833.1,823.3 832.0,822.6 831.0,822.0 830.1,821.2 829.4,820.5 828.9,819.8 828.5,819.0 828.3,818.2 828.3,817.5 837.9,387.3 838.0,386.8 838.3,386.3 838.8,385.8 839.5,385.3 840.3,384.8 841.3,384.4 842.4,384.0 843.7,383.6 845.1,383.3 846.6,383.0 848.2,382.7 849.9,382.5 851.8,382.3 853.6,382.1 855.6,382.0 857.6,382.0 859.6,382.0 861.6,382.0 863.6,382.1 865.6,382.2 867.6,382.4 869.5,382.6 871.4,382.8 873.1,383.1 874.8,383.5 876.4,383.8 877.9,384.2 879.3,384.6 880.5,385.1 881.6,385.5 882.5,386.0 883.2,386.5 883.8,387.1 884.3,387.6 884.5,388.1" fill="#e88c00"/>
</g>
<polygon points="868.8,824.1 869.9,823.5 870.8,822.9 871.6,822.2 872.2,821.5 872.6,820.8 872.9,820.0 873.0,819.3 872.9,818.5 872.7,817.7 872.3,817.0 871.8,816.2 871.0,815.5 870.2,814.8 869.1,814.1 868.0,813.5 866.7,812.9 865.3,812.3 863.7,811.8 862.1,811.3 860.4,810.9 858.6,810.6 856.8,810.3 854.9,810.0 853.0,809.9 851.1,809.7 849.1,809.7 847.2,809.7 845.3,809.8 843.4,810.0 841.6,810.2 839.9,810.4 838.2,810.8 836.7,811.2 835.2,811.6 833.9,812.1 832.6,812.7 831.6,813.3 830.6,813.9 829.8,814.6 829.2,815.3 828.7,816.0 828.4,816.7 828.3,817.5 828.3,818.2 828.5,819.0 828.9,819.8 829.4,820.5 830.1,821.2 831.0,822.0 832.0,822.6 833.1,823.3 834.4,823.9 835.8,824.5 837.4,825.0 839.0,825.5 840.7,825.9 842.5,826.3 844.4,826.6 846.3,826.8 848.2,827.0 850.2,827.1 852.1,827.2 854.1,827.1 856.0,827.1 857.9,826.9 859.7,826.7 861.5,826.4 863.2,826.1 864.7,825.6 866.2,825.2 867.6,824.7" fill="#ba7000" opacity="0.22"/>
<polygon points="880.2,392.0 881.3,391.5 882.3,391.1 883.1,390.6 883.7,390.2 884.2,389.7 884.5,389.1 884.6,388.6 884.5,388.1 884.3,387.6 883.8,387.1 883.2,386.5 882.5,386.0 881.6,385.5 880.5,385.1 879.3,384.6 877.9,384.2 876.4,383.8 874.8,383.5 873.1,383.1 871.4,382.8 869.5,382.6 867.6,382.4 865.6,382.2 863.6,382.1 861.6,382.0 859.6,382.0 857.6,382.0 855.6,382.0 853.6,382.1 851.8,382.3 849.9,382.5 848.2,382.7 846.6,383.0 845.1,383.3 843.7,383.6 842.4,384.0 841.3,384.4 840.3,384.8 839.5,385.3 838.8,385.8 838.3,386.3 838.0,386.8 837.9,387.3 837.9,387.8 838.1,388.3 838.5,388.9 839.1,389.4 839.8,389.9 840.7,390.4 841.8,390.9 843.0,391.3 844.4,391.7 845.8,392.1 847.4,392.5 849.1,392.8 850.9,393.1 852.8,393.4 854.8,393.6 856.7,393.8 858.8,393.9 860.8,394.0 862.9,394.0 864.9,394.0 866.9,394.0 868.9,393.9 870.8,393.7 872.6,393.5 874.4,393.3 876.0,393.0 877.5,392.7 878.9,392.3" fill="#eda333" fill-opacity="0.12" stroke="#804d00" stroke-width="1" stroke-opacity="0.45"/>
<g opacity="0.65">
<polygon points="883.4,835.0 895.1,416.3 895.2,415.8 895.5,415.2 896.0,414.7 896.6,414.2 897.4,413.7 898.4,413.3 899.5,412.9 900.7,412.5 902.1,412.1 903.6,411.8 905.3,411.5 907.0,411.3 908.8,411.1 910.7,410.9 912.7,410.8 914.7,410.8 916.7,410.7 918.8,410.8 920.8,410.9 922.9,411.0 924.9,411.2 926.8,411.4 928.7,411.6 930.5,412.0 932.3,412.3 933.9,412.7 935.4,413.1 936.8,413.5 938.1,414.0 939.2,414.5 940.2,415.0 941.0,415.5 941.6,416.1 942.1,416.6 942.4,417.1 942.5,417.7 928.8,836.9 928.8,837.6 928.5,838.4 928.1,839.1 927.5,839.9 926.7,840.6 925.8,841.2 924.8,841.8 923.6,842.4 922.2,842.9 920.8,843.4 919.2,843.8 917.5,844.2 915.7,844.5 913.9,844.7 912.0,844.9 910.0,845.0 908.1,845.0 906.1,844.9 904.1,844.8 902.1,844.6 900.2,844.4 898.3,844.1 896.4,843.7 894.7,843.3 893.0,842.8 891.4,842.2 890.0,841.6 888.6,841.0 887.4,840.3 886.4,839.6 885.5,838.9 884.7,838.1 884.2,837.4 883.7,836.6 883.5,835.8" fill="#e80000"/>
</g>
<polygon points="924.8,841.8 925.8,841.2 926.7,840.6 927.5,839.9 928.1,839.1 928.5,838.4 928.8,837.6 928.8,836.9 928.7,836.1 928.5,835.3 928.0,834.5 927.4,833.8 926.7,833.0 925.8,832.3 924.7,831.6 923.5,830.9 922.1,830.3 920.7,829.7 919.1,829.2 917.5,828.7 915.7,828.3 913.9,827.9 912.0,827.6 910.1,827.4 908.1,827.2 906.2,827.1 904.2,827.0 902.3,827.0 900.3,827.1 898.5,827.3 896.6,827.5 894.9,827.8 893.2,828.1 891.7,828.5 890.2,829.0 888.9,829.5 887.6,830.1 886.6,830.7 885.6,831.3 884.9,832.0 884.3,832.7 883.8,833.5 883.5,834.2 883.4,835.0 883.5,835.8 883.7,836.6 884.2,837.4 884.7,838.1 885.5,838.9 886.4,839.6 887.4,840.3 888.6,841.0 890.0,841.6 891.4,842.2 893.0,842.8 894.7,843.3 896.4,843.7 898.3,844.1 900.2,844.4 902.1,844.6 904.1,844.8 906.1,844.9 908.1,845.0 910.0,845.0 912.0,844.9 913.9,844.7 915.7,844.5 917.5,844.2 919.2,843.8 920.8,843.4 922.2,842.9 923.6,842.4" fill="#ba0000" opacity="0.22"/>
<polygon points="938.3,421.2 939.4,420.8 940.4,420.3 941.1,419.8 941.7,419.3 942.2,418.8 942.4,418.2 942.5,417.7 942.4,417.1 942.1,416.6 941.6,416.1 941.0,415.5 940.2,415.0 939.2,414.5 938.1,414.0 936.8,413.5 935.4,413.1 933.9,412.7 932.3,412.3 930.5,412.0 928.7,411.6 926.8,411.4 924.9,411.2 922.9,411.0 920.8,410.9 918.8,410.8 916.7,410.7 914.7,410.8 912.7,410.8 910.7,410.9 908.8,411.1 907.0,411.3 905.3,411.5 903.6,411.8 902.1,412.1 900.7,412.5 899.5,412.9 898.4,413.3 897.4,413.7 896.6,414.2 896.0,414.7 895.5,415.2 895.2,415.8 895.1,416.3 895.2,416.9 895.5,417.4 895.9,418.0 896.5,418.5 897.3,419.0 898.2,419.6 899.4,420.1 900.6,420.5 902.0,421.0 903.5,421.4 905.2,421.8 906.9,422.1 908.8,422.4 910.7,422.7 912.7,422.9 914.7,423.1 916.8,423.2 918.8,423.3 920.9,423.4 923.0,423.4 925.0,423.3 927.0,423.2 928.9,423.0 930.7,422.8 932.5,422.6 934.1,422.3 935.7,422.0 937.1,421.6" fill="#ed3333" fill-opacity="0.12" stroke="#800000" stroke-width="1" stroke-opacity="0.45"/>
<text x="495.6" y="270.2" fill="#22dd22" font-size="29" font-weight="bold" text-anchor="middle">4.49</text>
<text x="543.4" y="199.2" fill="#22dd22" font-size="29" font-weight="bold" text-anchor="middle">5.26</text>
<text x="593.2" y="123.0" fill="#22dd22" font-size="29" font-weight="bold" text-anchor="middle">6.05</text>
<text x="644.2" y="342.1" fill="#22dd22" font-size="29" font-weight="bold" text-anchor="middle">4.09</text>
<text x="696.1" y="375.4" fill="#22dd22" font-size="29" font-weight="bold" text-anchor="middle">3.88</text>
<text x="749.2" y="407.3" fill="#22dd22" font-size="29" font-weight="bold" text-anchor="middle">3.69</text>
<text x="805.8" y="322.8" fill="#22dd22" font-size="29" font-weight="bold" text-anchor="middle">4.57</text>
<text x="861.2" y="392.0" fill="#22dd22" font-size="29" font-weight="bold" text-anchor="middle">4.05</text>
<text x="918.8" y="421.0" fill="#22dd22" font-size="29" font-weight="bold" text-anchor="middle">3.9</text>
<text transform="translate(157.6,791.6) scale(1.0,1)" font-size="37" text-anchor="end">0</text>
<text transform="translate(153.2,691.9) scale(1.0,1)" font-size="37" text-anchor="end">1</text>
<text transform="translate(148.7,590.1) scale(1.0,1)" font-size="37" text-anchor="end">2</text>
<text transform="translate(144.1,486.2) scale(1.0,1)" font-size="37" text-anchor="end">3</text>
<text transform="translate(139.4,380.1) scale(1.0,1)" font-size="37" text-anchor="end">4</text>
<text transform="translate(134.6,271.8) scale(1.0,1)" font-size="37" text-anchor="end">5</text>
<text transform="translate(129.7,161.3) scale(1.0,1)" font-size="37" text-anchor="end">6</text>
<clipPath id="clipT1"><rect x="0" y="0" width="1185" height="1094"/></clipPath><g clip-path="url(#clipT1)">
<text transform="matrix(0.927,-0.375,0.342,0.94,203.2,796.0)" font-size="27" text-anchor="end">T1</text>
<text transform="matrix(0.930,-0.367,0.342,0.94,229.0,820.7)" font-size="27" text-anchor="end" textLength="238" lengthAdjust="spacingAndGlyphs">T2  (10mm 1mm)</text>
<text transform="matrix(0.928,-0.374,0.342,0.94,278.1,837.5)" font-size="27" text-anchor="end" textLength="240" lengthAdjust="spacingAndGlyphs">T3  (10mm 2mm)</text>
<text transform="matrix(0.925,-0.381,0.342,0.94,328.6,854.9)" font-size="27" text-anchor="end" textLength="242" lengthAdjust="spacingAndGlyphs">T4  (10mm 3mm)</text>
<text transform="matrix(0.922,-0.388,0.342,0.94,380.4,872.7)" font-size="27" text-anchor="end" textLength="244" lengthAdjust="spacingAndGlyphs">T5  (15mm 1mm)</text>
<text transform="matrix(0.919,-0.395,0.342,0.94,433.5,891.0)" font-size="27" text-anchor="end" textLength="246" lengthAdjust="spacingAndGlyphs">T6  (15mm 2mm)</text>
<text transform="matrix(0.916,-0.402,0.342,0.94,488.2,909.8)" font-size="27" text-anchor="end" textLength="248" lengthAdjust="spacingAndGlyphs">T7  (15mm 3mm)</text>
<text transform="matrix(0.913,-0.409,0.342,0.94,544.3,929.2)" font-size="27" text-anchor="end" textLength="250" lengthAdjust="spacingAndGlyphs">T8  (20mm 1mm)</text>
<text transform="matrix(0.910,-0.416,0.342,0.94,602.0,949.2)" font-size="27" text-anchor="end" textLength="252" lengthAdjust="spacingAndGlyphs">T9  (20mm 2mm)</text>
<text transform="matrix(0.906,-0.423,0.342,0.94,661.4,969.8)" font-size="27" text-anchor="end" textLength="264" lengthAdjust="spacingAndGlyphs">T10  (20mm 3mm)</text>
</g>
<text x="803.5" y="935.0" font-size="24" font-style="italic" text-anchor="middle">0</text>
<text x="951.9" y="856.4" font-size="24" font-style="italic" text-anchor="middle">1</text>
<text x="1084.1" y="786.4" font-size="24" font-style="italic" text-anchor="middle">2</text>
<text transform="matrix(0.891,-0.454,0.259,0.966,816.7,974.5)" font-size="50" stroke="#000" stroke-width="1.1" textLength="400" lengthAdjust="spacingAndGlyphs">The number of reinforced layers</text>
<text transform="translate(81,319) rotate(87.6)" font-size="40" textLength="267" lengthAdjust="spacing">Cohesion(kPa)</text>
<line x1="256.9" y1="2021.4" x2="231.6" y2="1348.2" stroke="#8a8a8a" stroke-width="1.15"/>
<line x1="414.7" y1="1961.5" x2="401.1" y2="1320.9" stroke="#8a8a8a" stroke-width="1.15"/>
<line x1="557.2" y1="1907.5" x2="553.1" y2="1296.5" stroke="#8a8a8a" stroke-width="1.15"/>
<line x1="166.8" y1="1953.6" x2="623.4" y2="1794.9" stroke="#8a8a8a" stroke-width="1.15"/>
<line x1="162.1" y1="1851.2" x2="623.4" y2="1705.9" stroke="#8a8a8a" stroke-width="1.15"/>
<line x1="157.2" y1="1746.7" x2="623.4" y2="1615.4" stroke="#8a8a8a" stroke-width="1.15"/>
<line x1="152.3" y1="1640.0" x2="623.4" y2="1523.2" stroke="#8a8a8a" stroke-width="1.15"/>
<line x1="147.2" y1="1531.0" x2="623.4" y2="1429.3" stroke="#8a8a8a" stroke-width="1.15"/>
<line x1="142.0" y1="1419.6" x2="623.4" y2="1333.6" stroke="#8a8a8a" stroke-width="1.15"/>
<line x1="139.4" y1="1363.0" x2="623.4" y2="1285.2" stroke="#666" stroke-width="1.2"/>
<line x1="666.9" y1="1894.5" x2="669.5" y2="1290.9" stroke="#8a8a8a" stroke-width="1.15"/>
<line x1="711.4" y1="1907.0" x2="716.8" y2="1296.8" stroke="#8a8a8a" stroke-width="1.15"/>
<line x1="756.9" y1="1919.7" x2="765.2" y2="1302.8" stroke="#8a8a8a" stroke-width="1.15"/>
<line x1="803.5" y1="1932.8" x2="814.9" y2="1309.0" stroke="#8a8a8a" stroke-width="1.15"/>
<line x1="851.2" y1="1946.2" x2="865.8" y2="1315.3" stroke="#8a8a8a" stroke-width="1.15"/>
<line x1="900.1" y1="1959.8" x2="918.0" y2="1321.8" stroke="#8a8a8a" stroke-width="1.15"/>
<line x1="950.1" y1="1973.9" x2="971.5" y2="1328.5" stroke="#8a8a8a" stroke-width="1.15"/>
<line x1="1001.4" y1="1988.2" x2="1026.5" y2="1335.3" stroke="#8a8a8a" stroke-width="1.15"/>
<line x1="1054.0" y1="2002.9" x2="1082.9" y2="1342.4" stroke="#8a8a8a" stroke-width="1.15"/>
<line x1="1107.8" y1="2018.0" x2="1140.9" y2="1349.6" stroke="#8a8a8a" stroke-width="1.15"/>
<line x1="623.4" y1="1794.9" x2="1140.4" y2="1928.0" stroke="#8a8a8a" stroke-width="1.15"/>
<line x1="623.4" y1="1705.9" x2="1145.6" y2="1828.2" stroke="#8a8a8a" stroke-width="1.15"/>
<line x1="623.4" y1="1615.4" x2="1150.9" y2="1726.4" stroke="#8a8a8a" stroke-width="1.15"/>
<line x1="623.4" y1="1523.2" x2="1156.4" y2="1622.6" stroke="#8a8a8a" stroke-width="1.15"/>
<line x1="623.4" y1="1429.3" x2="1161.9" y2="1516.5" stroke="#8a8a8a" stroke-width="1.15"/>
<line x1="623.4" y1="1333.6" x2="1167.6" y2="1408.2" stroke="#8a8a8a" stroke-width="1.15"/>
<line x1="623.4" y1="1285.2" x2="1170.5" y2="1353.3" stroke="#666" stroke-width="1.2"/>
<line x1="1135.3" y1="2025.7" x2="1170.5" y2="1353.3" stroke="#777" stroke-width="1.2"/>
<line x1="623.4" y1="1882.3" x2="623.4" y2="1285.2" stroke="#555" stroke-width="1.3"/>
<line x1="216.3" y1="2070.3" x2="666.9" y2="1894.5" stroke="#8a8a8a" stroke-width="1.15"/>
<line x1="262.3" y1="2087.3" x2="711.4" y2="1907.0" stroke="#8a8a8a" stroke-width="1.15"/>
<line x1="309.6" y1="2104.7" x2="756.9" y2="1919.7" stroke="#8a8a8a" stroke-width="1.15"/>
<line x1="358.1" y1="2122.5" x2="803.5" y2="1932.8" stroke="#8a8a8a" stroke-width="1.15"/>
<line x1="408.1" y1="2140.9" x2="851.2" y2="1946.2" stroke="#8a8a8a" stroke-width="1.15"/>
<line x1="459.4" y1="2159.8" x2="900.1" y2="1959.8" stroke="#8a8a8a" stroke-width="1.15"/>
<line x1="512.2" y1="2179.3" x2="950.1" y2="1973.9" stroke="#8a8a8a" stroke-width="1.15"/>
<line x1="566.6" y1="2199.3" x2="1001.4" y2="1988.2" stroke="#8a8a8a" stroke-width="1.15"/>
<line x1="622.5" y1="2219.9" x2="1054.0" y2="2002.9" stroke="#8a8a8a" stroke-width="1.15"/>
<line x1="680.2" y1="2241.1" x2="1107.8" y2="2018.0" stroke="#8a8a8a" stroke-width="1.15"/>
<line x1="256.9" y1="2021.4" x2="791.6" y2="2208.4" stroke="#8a8a8a" stroke-width="1.15"/>
<line x1="414.7" y1="1961.5" x2="941.1" y2="2129.0" stroke="#8a8a8a" stroke-width="1.15"/>
<line x1="557.2" y1="1907.5" x2="1074.1" y2="2058.2" stroke="#8a8a8a" stroke-width="1.15"/>
<line x1="171.5" y1="2053.8" x2="623.4" y2="1882.3" stroke="#444" stroke-width="1.2"/>
<line x1="623.4" y1="1882.3" x2="1135.3" y2="2025.7" stroke="#444" stroke-width="1.2"/>
<line x1="171.5" y1="2053.8" x2="139.4" y2="1363.0" stroke="#111" stroke-width="2.3"/>
<line x1="171.5" y1="2053.8" x2="709.7" y2="2252.0" stroke="#111" stroke-width="3.2"/>
<line x1="709.7" y1="2252.0" x2="1135.3" y2="2025.7" stroke="#111" stroke-width="3.2"/>
<line x1="166.8" y1="1953.6" x2="179.2" y2="1949.3" stroke="#111" stroke-width="2.6"/>
<line x1="162.1" y1="1851.2" x2="174.6" y2="1847.3" stroke="#111" stroke-width="2.6"/>
<line x1="157.2" y1="1746.7" x2="169.9" y2="1743.1" stroke="#111" stroke-width="2.6"/>
<line x1="152.3" y1="1640.0" x2="165.1" y2="1636.8" stroke="#111" stroke-width="2.6"/>
<line x1="147.2" y1="1531.0" x2="160.2" y2="1528.2" stroke="#111" stroke-width="2.6"/>
<line x1="142.0" y1="1419.6" x2="155.2" y2="1417.2" stroke="#111" stroke-width="2.6"/>
<line x1="171.5" y1="2053.8" x2="183.7" y2="2049.2" stroke="#111" stroke-width="2.6"/>
<line x1="169.2" y1="2003.9" x2="177.1" y2="2001.1" stroke="#111" stroke-width="2.2"/>
<line x1="164.5" y1="1902.6" x2="172.5" y2="1900.0" stroke="#111" stroke-width="2.2"/>
<line x1="159.7" y1="1799.2" x2="167.8" y2="1796.8" stroke="#111" stroke-width="2.2"/>
<line x1="154.8" y1="1693.6" x2="163.0" y2="1691.4" stroke="#111" stroke-width="2.2"/>
<line x1="149.7" y1="1585.8" x2="158.1" y2="1583.8" stroke="#111" stroke-width="2.2"/>
<line x1="144.6" y1="1475.6" x2="153.0" y2="1473.9" stroke="#111" stroke-width="2.2"/>
<line x1="216.3" y1="2070.3" x2="228.5" y2="2065.6" stroke="#111" stroke-width="2.6"/>
<line x1="262.3" y1="2087.3" x2="274.5" y2="2082.4" stroke="#111" stroke-width="2.6"/>
<line x1="309.6" y1="2104.7" x2="321.8" y2="2099.6" stroke="#111" stroke-width="2.6"/>
<line x1="358.1" y1="2122.5" x2="370.3" y2="2117.4" stroke="#111" stroke-width="2.6"/>
<line x1="408.1" y1="2140.9" x2="420.2" y2="2135.6" stroke="#111" stroke-width="2.6"/>
<line x1="459.4" y1="2159.8" x2="471.5" y2="2154.4" stroke="#111" stroke-width="2.6"/>
<line x1="512.2" y1="2179.3" x2="524.2" y2="2173.6" stroke="#111" stroke-width="2.6"/>
<line x1="566.6" y1="2199.3" x2="578.5" y2="2193.5" stroke="#111" stroke-width="2.6"/>
<line x1="622.5" y1="2219.9" x2="634.4" y2="2213.9" stroke="#111" stroke-width="2.6"/>
<line x1="680.2" y1="2241.1" x2="692.0" y2="2235.0" stroke="#111" stroke-width="2.6"/>
<line x1="791.6" y1="2208.4" x2="776.9" y2="2203.3" stroke="#111" stroke-width="2.6"/>
<line x1="941.1" y1="2129.0" x2="926.8" y2="2124.4" stroke="#111" stroke-width="2.6"/>
<line x1="1074.1" y1="2058.2" x2="1060.2" y2="2054.2" stroke="#111" stroke-width="2.6"/>
<text x="646.9" y="1443.1" fill="#111" font-size="23" font-weight="bold" text-anchor="middle">51.07</text>
<g opacity="0.95">
<polygon points="618.4,1934.0 648.3,1942.8 649.5,1454.7 618.1,1449.4" fill="#f58214" stroke="#2a2020" stroke-width="1.1"/>
<polygon points="636.9,1939.4 645.3,1941.9 646.4,1454.2 637.5,1452.7" fill="#ffffff" opacity="0.10"/>
<polygon points="648.3,1942.8 673.3,1932.7 675.7,1448.8 649.5,1454.7" fill="#d06e11" stroke="#2a2020" stroke-width="1.1"/>
<polygon points="618.1,1449.4 649.5,1454.7 675.7,1448.8 644.3,1443.6" fill="#e97c13" stroke="#2a2020" stroke-width="1.1"/>
</g>
<text x="695.1" y="1445.7" fill="#111" font-size="23" font-weight="bold" text-anchor="middle">51.61</text>
<g opacity="0.95">
<polygon points="664.0,1947.4 694.7,1956.4 698.2,1457.4 666.0,1452.0" fill="#f5e014" stroke="#2a2020" stroke-width="1.1"/>
<polygon points="682.9,1952.9 691.6,1955.5 695.0,1456.8 685.9,1455.3" fill="#ffffff" opacity="0.10"/>
<polygon points="694.7,1956.4 719.5,1946.0 724.3,1451.4 698.2,1457.4" fill="#d0be11" stroke="#2a2020" stroke-width="1.1"/>
<polygon points="666.0,1452.0 698.2,1457.4 724.3,1451.4 692.1,1446.1" fill="#e9d513" stroke="#2a2020" stroke-width="1.1"/>
</g>
<text x="744.8" y="1434.8" fill="#111" font-size="23" font-weight="bold" text-anchor="middle">53.47</text>
<g opacity="0.95">
<polygon points="710.7,1961.1 742.1,1970.3 748.4,1446.5 715.2,1441.1" fill="#8ce014" stroke="#2a2020" stroke-width="1.1"/>
<polygon points="730.1,1966.8 738.9,1969.4 745.0,1446.0 735.7,1444.5" fill="#ffffff" opacity="0.10"/>
<polygon points="742.1,1970.3 766.8,1959.7 774.3,1440.5 748.4,1446.5" fill="#77be11" stroke="#2a2020" stroke-width="1.1"/>
<polygon points="715.2,1441.1 748.4,1446.5 774.3,1440.5 741.2,1435.3" fill="#85d513" stroke="#2a2020" stroke-width="1.1"/>
</g>
<text x="795.1" y="1471.9" fill="#111" font-size="23" font-weight="bold" text-anchor="middle">50.67</text>
<g opacity="0.95">
<polygon points="758.5,1975.2 790.7,1984.6 799.2,1483.9 765.3,1478.2" fill="#14e014" stroke="#2a2020" stroke-width="1.1"/>
<polygon points="790.7,1984.6 815.2,1973.7 824.9,1477.5 799.2,1483.9" fill="#11be11" stroke="#2a2020" stroke-width="1.1"/>
<polygon points="765.3,1478.2 799.2,1483.9 824.9,1477.5 791.1,1471.9" fill="#13d513" stroke="#2a2020" stroke-width="1.1"/>
</g>
<text x="847.4" y="1466.6" fill="#111" font-size="23" font-weight="bold" text-anchor="middle">52.01</text>
<g opacity="0.95">
<polygon points="807.5,1989.6 840.5,1999.3 852.0,1478.7 817.2,1472.9" fill="#14eaf5" stroke="#2a2020" stroke-width="1.1"/>
<polygon points="827.9,1995.6 837.2,1998.3 848.5,1478.1 838.7,1476.5" fill="#ffffff" opacity="0.10"/>
<polygon points="840.5,1999.3 864.9,1988.1 877.5,1472.2 852.0,1478.7" fill="#11c7d0" stroke="#2a2020" stroke-width="1.1"/>
<polygon points="817.2,1472.9 852.0,1478.7 877.5,1472.2 842.8,1466.6" fill="#13dee9" stroke="#2a2020" stroke-width="1.1"/>
</g>
<text x="901.0" y="1464.8" fill="#111" font-size="23" font-weight="bold" text-anchor="middle">53</text>
<g opacity="0.95">
<polygon points="857.8,2004.3 891.6,2014.3 906.3,1477.0 870.5,1471.2" fill="#1e8cf5" stroke="#2a2020" stroke-width="1.1"/>
<polygon points="878.7,2010.5 888.2,2013.3 902.7,1476.4 892.6,1474.8" fill="#ffffff" opacity="0.10"/>
<polygon points="891.6,2014.3 915.7,2002.8 931.6,1470.5 906.3,1477.0" fill="#1a77d0" stroke="#2a2020" stroke-width="1.1"/>
<polygon points="870.5,1471.2 906.3,1477.0 931.6,1470.5 895.9,1464.8" fill="#1c85e9" stroke="#2a2020" stroke-width="1.1"/>
</g>
<text x="955.4" y="1491.3" fill="#111" font-size="23" font-weight="bold" text-anchor="middle">51.36</text>
<g opacity="0.95">
<polygon points="909.3,2019.5 944.0,2029.7 961.2,1503.8 924.5,1497.6" fill="#1414ff" stroke="#2a2020" stroke-width="1.1"/>
<polygon points="944.0,2029.7 967.9,2017.9 986.2,1496.9 961.2,1503.8" fill="#1111d9" stroke="#2a2020" stroke-width="1.1"/>
<polygon points="924.5,1497.6 961.2,1503.8 986.2,1496.9 949.6,1490.9" fill="#1313f2" stroke="#2a2020" stroke-width="1.1"/>
</g>
<text x="1011.6" y="1500.7" fill="#111" font-size="23" font-weight="bold" text-anchor="middle">51.35</text>
<g opacity="0.95">
<polygon points="962.1,2035.0 997.7,2045.5 1018.1,1513.4 980.4,1507.1" fill="#ff1414" stroke="#2a2020" stroke-width="1.1"/>
<polygon points="997.7,2045.5 1021.4,2033.4 1042.8,1506.3 1018.1,1513.4" fill="#d91111" stroke="#2a2020" stroke-width="1.1"/>
<polygon points="980.4,1507.1 1018.1,1513.4 1042.8,1506.3 1005.3,1500.1" fill="#f21313" stroke="#2a2020" stroke-width="1.1"/>
</g>
<text x="1070.1" y="1494.8" fill="#111" font-size="23" font-weight="bold" text-anchor="middle">52.76</text>
<g opacity="0.95">
<polygon points="1016.3,2050.9 1052.9,2061.7 1077.3,1507.5 1038.4,1501.1" fill="#f58c14" stroke="#2a2020" stroke-width="1.1"/>
<polygon points="1038.9,2057.6 1049.2,2060.6 1073.3,1506.8 1062.4,1505.1" fill="#ffffff" opacity="0.10"/>
<polygon points="1052.9,2061.7 1076.3,2049.3 1101.7,1500.4 1077.3,1507.5" fill="#d07711" stroke="#2a2020" stroke-width="1.1"/>
<polygon points="1038.4,1501.1 1077.3,1507.5 1101.7,1500.4 1063.1,1494.2" fill="#e98513" stroke="#2a2020" stroke-width="1.1"/>
</g>
<text x="286.4" y="1570.1" fill="#111" font-size="23" font-weight="bold" text-anchor="middle">44.92</text>
<g opacity="0.97">
<polygon points="271.2,2037.8 301.1,2048.4 285.7,1583.4 254.5,1576.5" fill="#f02814" stroke="#2a2020" stroke-width="1.1"/>
<polygon points="301.1,2048.4 332.0,2036.2 318.2,1575.6 285.7,1583.4" fill="#cc2211" stroke="#2a2020" stroke-width="1.1"/>
<polygon points="254.5,1576.5 285.7,1583.4 318.2,1575.6 287.0,1568.8" fill="#e42613" stroke="#2a2020" stroke-width="1.1"/>
</g>
<g opacity="0.65">
<polygon points="483.9,1990.6 477.1,1513.7 477.1,1513.3 477.3,1512.9 477.6,1512.5 478.1,1512.1 478.8,1511.7 479.6,1511.4 480.5,1511.0 481.6,1510.7 482.8,1510.4 484.1,1510.1 485.6,1509.9 487.1,1509.6 488.7,1509.4 490.4,1509.3 492.2,1509.1 494.0,1509.0 495.8,1508.9 497.7,1508.9 499.5,1508.9 501.4,1508.9 503.2,1509.0 505.0,1509.1 506.8,1509.2 508.5,1509.4 510.1,1509.6 511.6,1509.8 513.1,1510.0 514.4,1510.3 515.6,1510.6 516.7,1510.9 517.6,1511.3 518.5,1511.6 519.1,1512.0 519.6,1512.4 519.9,1512.7 520.1,1513.1 520.1,1513.5 525.0,1990.2 524.8,1990.8 524.5,1991.5 524.1,1992.1 523.5,1992.7 522.7,1993.3 521.8,1993.9 520.8,1994.4 519.7,1994.9 518.4,1995.4 517.0,1995.8 515.6,1996.2 514.0,1996.5 512.4,1996.8 510.7,1997.1 509.0,1997.2 507.2,1997.4 505.4,1997.5 503.6,1997.5 501.8,1997.4 500.0,1997.3 498.3,1997.2 496.6,1997.0 494.9,1996.7 493.4,1996.4 491.9,1996.1 490.5,1995.6 489.3,1995.2 488.1,1994.7 487.1,1994.2 486.2,1993.6 485.4,1993.1 484.8,1992.5 484.4,1991.9 484.1,1991.2" fill="#e80000"/>
</g>
<polygon points="519.7,1994.9 520.8,1994.4 521.8,1993.9 522.7,1993.3 523.5,1992.7 524.1,1992.1 524.5,1991.5 524.8,1990.8 525.0,1990.2 524.9,1989.6 524.8,1988.9 524.4,1988.3 524.0,1987.7 523.3,1987.1 522.6,1986.5 521.7,1986.0 520.6,1985.5 519.5,1985.0 518.2,1984.5 516.8,1984.1 515.4,1983.8 513.8,1983.5 512.2,1983.2 510.5,1983.0 508.8,1982.9 507.1,1982.8 505.3,1982.8 503.5,1982.8 501.7,1982.8 500.0,1983.0 498.3,1983.2 496.6,1983.4 495.0,1983.7 493.4,1984.0 492.0,1984.4 490.6,1984.8 489.3,1985.3 488.2,1985.8 487.2,1986.3 486.3,1986.9 485.5,1987.4 484.9,1988.0 484.4,1988.7 484.1,1989.3 483.9,1989.9 483.9,1990.6 484.1,1991.2 484.4,1991.9 484.8,1992.5 485.4,1993.1 486.2,1993.6 487.1,1994.2 488.1,1994.7 489.3,1995.2 490.5,1995.6 491.9,1996.1 493.4,1996.4 494.9,1996.7 496.6,1997.0 498.3,1997.2 500.0,1997.3 501.8,1997.4 503.6,1997.5 505.4,1997.5 507.2,1997.4 509.0,1997.2 510.7,1997.1 512.4,1996.8 514.0,1996.5 515.6,1996.2 517.0,1995.8 518.4,1995.4" fill="#ba0000" opacity="0.22"/>
<polygon points="514.6,1516.4 515.8,1516.1 516.8,1515.8 517.8,1515.5 518.6,1515.1 519.2,1514.7 519.7,1514.3 520.0,1513.9 520.1,1513.5 520.1,1513.1 519.9,1512.7 519.6,1512.4 519.1,1512.0 518.5,1511.6 517.6,1511.3 516.7,1510.9 515.6,1510.6 514.4,1510.3 513.1,1510.0 511.6,1509.8 510.1,1509.6 508.5,1509.4 506.8,1509.2 505.0,1509.1 503.2,1509.0 501.4,1508.9 499.5,1508.9 497.7,1508.9 495.8,1508.9 494.0,1509.0 492.2,1509.1 490.4,1509.3 488.7,1509.4 487.1,1509.6 485.6,1509.9 484.1,1510.1 482.8,1510.4 481.6,1510.7 480.5,1511.0 479.6,1511.4 478.8,1511.7 478.1,1512.1 477.6,1512.5 477.3,1512.9 477.1,1513.3 477.1,1513.7 477.2,1514.1 477.6,1514.5 478.0,1514.8 478.7,1515.2 479.5,1515.6 480.4,1515.9 481.5,1516.2 482.7,1516.5 484.0,1516.8 485.4,1517.1 487.0,1517.3 488.6,1517.5 490.3,1517.7 492.1,1517.8 493.9,1517.9 495.8,1518.0 497.7,1518.0 499.6,1518.0 501.5,1517.9 503.3,1517.9 505.1,1517.8 506.9,1517.6 508.6,1517.4 510.3,1517.2 511.8,1517.0 513.2,1516.7" fill="#ed3333" fill-opacity="0.12" stroke="#800000" stroke-width="1" stroke-opacity="0.45"/>
<g opacity="0.65">
<polygon points="569.2,1523.7 571.8,2005.0 571.6,2005.7 571.4,2006.3 570.9,2007.0 570.4,2007.6 569.6,2008.2 568.8,2008.8 567.7,2009.3 566.6,2009.8 565.3,2010.3 564.0,2010.8 562.5,2011.2 560.9,2011.5 559.3,2011.8 557.6,2012.0 555.9,2012.2 554.1,2012.4 552.2,2012.4 550.4,2012.5 548.6,2012.4 546.8,2012.3 545.0,2012.2 543.3,2012.0 541.6,2011.7 540.1,2011.4 538.5,2011.0 537.1,2010.6 535.8,2010.1 534.6,2009.6 533.6,2009.1 532.7,2008.5 531.9,2008.0 531.2,2007.3 530.7,2006.7 530.4,2006.1 530.2,2005.4 530.2,2004.7 525.6,1523.4 525.7,1523.0 526.1,1522.6 526.5,1522.2 527.2,1521.8 527.9,1521.4 528.9,1521.1 530.0,1520.7 531.2,1520.4 532.5,1520.1 533.9,1519.9 535.5,1519.6 537.1,1519.4 538.8,1519.3 540.6,1519.1 542.4,1519.0 544.2,1518.9 546.1,1518.9 548.0,1518.9 549.9,1518.9 551.7,1519.0 553.6,1519.1 555.4,1519.2 557.1,1519.4 558.7,1519.6 560.3,1519.8 561.8,1520.0 563.2,1520.3 564.4,1520.6 565.5,1521.0 566.5,1521.3 567.3,1521.7 568.0,1522.1 568.6,1522.4 568.9,1522.8 569.1,1523.2" fill="#d00000"/>
</g>
<polygon points="566.6,2009.8 567.7,2009.3 568.8,2008.8 569.6,2008.2 570.4,2007.6 570.9,2007.0 571.4,2006.3 571.6,2005.7 571.8,2005.0 571.7,2004.3 571.5,2003.7 571.2,2003.0 570.7,2002.4 570.0,2001.8 569.2,2001.2 568.3,2000.7 567.2,2000.1 566.0,1999.7 564.7,1999.2 563.3,1998.8 561.8,1998.4 560.2,1998.1 558.6,1997.9 556.9,1997.7 555.1,1997.5 553.3,1997.4 551.5,1997.4 549.7,1997.4 548.0,1997.5 546.2,1997.6 544.4,1997.8 542.8,1998.0 541.1,1998.3 539.6,1998.7 538.1,1999.0 536.8,1999.5 535.5,1999.9 534.4,2000.5 533.3,2001.0 532.4,2001.6 531.7,2002.2 531.1,2002.8 530.7,2003.4 530.4,2004.1 530.2,2004.7 530.2,2005.4 530.4,2006.1 530.7,2006.7 531.2,2007.3 531.9,2008.0 532.7,2008.5 533.6,2009.1 534.6,2009.6 535.8,2010.1 537.1,2010.6 538.5,2011.0 540.1,2011.4 541.6,2011.7 543.3,2012.0 545.0,2012.2 546.8,2012.3 548.6,2012.4 550.4,2012.5 552.2,2012.4 554.1,2012.4 555.9,2012.2 557.6,2012.0 559.3,2011.8 560.9,2011.5 562.5,2011.2 564.0,2010.8 565.3,2010.3" fill="#a60000" opacity="0.22"/>
<polygon points="563.8,1526.6 565.0,1526.3 566.0,1526.0 566.9,1525.6 567.7,1525.2 568.3,1524.9 568.8,1524.5 569.1,1524.1 569.2,1523.7 569.1,1523.2 568.9,1522.8 568.6,1522.4 568.0,1522.1 567.3,1521.7 566.5,1521.3 565.5,1521.0 564.4,1520.6 563.2,1520.3 561.8,1520.0 560.3,1519.8 558.7,1519.6 557.1,1519.4 555.4,1519.2 553.6,1519.1 551.7,1519.0 549.9,1518.9 548.0,1518.9 546.1,1518.9 544.2,1518.9 542.4,1519.0 540.6,1519.1 538.8,1519.3 537.1,1519.4 535.5,1519.6 533.9,1519.9 532.5,1520.1 531.2,1520.4 530.0,1520.7 528.9,1521.1 527.9,1521.4 527.2,1521.8 526.5,1522.2 526.1,1522.6 525.7,1523.0 525.6,1523.4 525.6,1523.8 525.8,1524.2 526.1,1524.6 526.6,1525.0 527.3,1525.4 528.1,1525.8 529.1,1526.1 530.2,1526.4 531.5,1526.7 532.8,1527.0 534.3,1527.3 535.9,1527.5 537.6,1527.7 539.3,1527.9 541.1,1528.0 543.0,1528.1 544.9,1528.2 546.8,1528.2 548.7,1528.2 550.6,1528.2 552.5,1528.1 554.3,1528.0 556.1,1527.8 557.8,1527.7 559.5,1527.4 561.0,1527.2 562.4,1526.9" fill="#d93333" fill-opacity="0.12" stroke="#720000" stroke-width="1" stroke-opacity="0.45"/>
<g opacity="0.65">
<polygon points="619.5,1526.6 619.8,2020.2 619.7,2020.9 619.4,2021.5 619.0,2022.2 618.4,2022.8 617.7,2023.5 616.9,2024.0 615.9,2024.6 614.7,2025.1 613.5,2025.6 612.1,2026.1 610.6,2026.5 609.1,2026.9 607.4,2027.2 605.7,2027.4 603.9,2027.6 602.1,2027.7 600.3,2027.8 598.5,2027.8 596.6,2027.8 594.8,2027.7 593.0,2027.5 591.2,2027.3 589.5,2027.1 587.9,2026.7 586.4,2026.4 584.9,2025.9 583.6,2025.5 582.4,2024.9 581.3,2024.4 580.3,2023.8 579.5,2023.2 578.8,2022.6 578.3,2021.9 577.9,2021.3 577.7,2020.6 577.7,2019.9 575.3,1526.3 575.4,1525.9 575.7,1525.5 576.2,1525.1 576.8,1524.7 577.6,1524.3 578.5,1524.0 579.6,1523.6 580.7,1523.3 582.1,1523.0 583.5,1522.7 585.0,1522.5 586.7,1522.3 588.4,1522.1 590.2,1522.0 592.0,1521.8 593.9,1521.8 595.8,1521.7 597.7,1521.7 599.6,1521.7 601.5,1521.8 603.4,1521.9 605.2,1522.0 607.0,1522.2 608.6,1522.4 610.3,1522.6 611.8,1522.9 613.2,1523.2 614.5,1523.5 615.6,1523.8 616.6,1524.2 617.5,1524.6 618.2,1524.9 618.8,1525.3 619.2,1525.7 619.5,1526.2" fill="#670000"/>
</g>
<polygon points="614.7,2025.1 615.9,2024.6 616.9,2024.0 617.7,2023.5 618.4,2022.8 619.0,2022.2 619.4,2021.5 619.7,2020.9 619.8,2020.2 619.7,2019.5 619.5,2018.8 619.1,2018.2 618.5,2017.5 617.8,2016.9 617.0,2016.3 616.0,2015.7 614.9,2015.2 613.7,2014.7 612.4,2014.2 610.9,2013.8 609.4,2013.5 607.8,2013.1 606.1,2012.9 604.4,2012.7 602.6,2012.5 600.8,2012.4 599.0,2012.4 597.1,2012.4 595.3,2012.5 593.6,2012.6 591.8,2012.8 590.1,2013.0 588.5,2013.3 586.9,2013.7 585.5,2014.1 584.1,2014.5 582.8,2015.0 581.7,2015.5 580.7,2016.1 579.8,2016.7 579.1,2017.3 578.5,2017.9 578.1,2018.6 577.8,2019.3 577.7,2019.9 577.7,2020.6 577.9,2021.3 578.3,2021.9 578.8,2022.6 579.5,2023.2 580.3,2023.8 581.3,2024.4 582.4,2024.9 583.6,2025.5 584.9,2025.9 586.4,2026.4 587.9,2026.7 589.5,2027.1 591.2,2027.3 593.0,2027.5 594.8,2027.7 596.6,2027.8 598.5,2027.8 600.3,2027.8 602.1,2027.7 603.9,2027.6 605.7,2027.4 607.4,2027.2 609.1,2026.9 610.6,2026.5 612.1,2026.1 613.5,2025.6" fill="#520000" opacity="0.22"/>
<polygon points="614.2,1529.6 615.4,1529.3 616.5,1528.9 617.4,1528.6 618.1,1528.2 618.7,1527.8 619.2,1527.4 619.4,1527.0 619.5,1526.6 619.5,1526.2 619.2,1525.7 618.8,1525.3 618.2,1524.9 617.5,1524.6 616.6,1524.2 615.6,1523.8 614.5,1523.5 613.2,1523.2 611.8,1522.9 610.3,1522.6 608.6,1522.4 607.0,1522.2 605.2,1522.0 603.4,1521.9 601.5,1521.8 599.6,1521.7 597.7,1521.7 595.8,1521.7 593.9,1521.8 592.0,1521.8 590.2,1522.0 588.4,1522.1 586.7,1522.3 585.0,1522.5 583.5,1522.7 582.1,1523.0 580.7,1523.3 579.6,1523.6 578.5,1524.0 577.6,1524.3 576.8,1524.7 576.2,1525.1 575.7,1525.5 575.4,1525.9 575.3,1526.3 575.4,1526.7 575.6,1527.1 576.0,1527.5 576.5,1527.9 577.2,1528.3 578.1,1528.7 579.1,1529.1 580.2,1529.4 581.5,1529.7 582.9,1530.0 584.4,1530.3 586.1,1530.5 587.8,1530.7 589.6,1530.9 591.4,1531.0 593.3,1531.1 595.2,1531.2 597.1,1531.2 599.1,1531.2 601.0,1531.2 602.9,1531.1 604.8,1531.0 606.6,1530.8 608.3,1530.7 609.9,1530.4 611.5,1530.2 612.9,1529.9" fill="#853333" fill-opacity="0.12" stroke="#390000" stroke-width="1" stroke-opacity="0.45"/>
<g opacity="0.65">
<polygon points="671.2,1540.7 669.0,2035.8 668.9,2036.4 668.7,2037.1 668.3,2037.8 667.8,2038.5 667.1,2039.1 666.2,2039.7 665.2,2040.3 664.1,2040.9 662.9,2041.4 661.5,2041.8 660.0,2042.2 658.4,2042.6 656.8,2042.9 655.1,2043.2 653.3,2043.4 651.5,2043.5 649.6,2043.6 647.7,2043.6 645.9,2043.6 644.0,2043.5 642.2,2043.3 640.4,2043.1 638.7,2042.8 637.0,2042.5 635.4,2042.1 634.0,2041.7 632.6,2041.2 631.3,2040.6 630.2,2040.1 629.2,2039.5 628.3,2038.9 627.6,2038.2 627.1,2037.6 626.7,2036.9 626.4,2036.2 626.4,2035.5 626.5,1540.4 626.6,1540.0 626.8,1539.6 627.2,1539.2 627.8,1538.8 628.6,1538.4 629.5,1538.0 630.5,1537.7 631.7,1537.3 633.0,1537.0 634.5,1536.7 636.0,1536.5 637.7,1536.3 639.4,1536.1 641.2,1535.9 643.0,1535.8 644.9,1535.7 646.8,1535.7 648.8,1535.7 650.7,1535.7 652.6,1535.8 654.5,1535.9 656.4,1536.0 658.2,1536.2 659.9,1536.4 661.6,1536.6 663.1,1536.9 664.6,1537.2 665.9,1537.5 667.1,1537.9 668.1,1538.2 669.1,1538.6 669.8,1539.0 670.4,1539.4 670.9,1539.9 671.1,1540.3" fill="#6d006d"/>
</g>
<polygon points="664.1,2040.9 665.2,2040.3 666.2,2039.7 667.1,2039.1 667.8,2038.5 668.3,2037.8 668.7,2037.1 668.9,2036.4 669.0,2035.8 668.9,2035.1 668.6,2034.4 668.2,2033.7 667.6,2033.0 666.9,2032.4 666.0,2031.8 665.0,2031.2 663.9,2030.6 662.6,2030.1 661.2,2029.7 659.8,2029.2 658.2,2028.9 656.6,2028.5 654.9,2028.3 653.1,2028.0 651.3,2027.9 649.5,2027.8 647.6,2027.7 645.8,2027.8 643.9,2027.8 642.1,2028.0 640.4,2028.2 638.7,2028.4 637.0,2028.7 635.5,2029.1 634.0,2029.5 632.6,2029.9 631.4,2030.4 630.2,2031.0 629.2,2031.6 628.4,2032.2 627.7,2032.8 627.1,2033.4 626.7,2034.1 626.5,2034.8 626.4,2035.5 626.4,2036.2 626.7,2036.9 627.1,2037.6 627.6,2038.2 628.3,2038.9 629.2,2039.5 630.2,2040.1 631.3,2040.6 632.6,2041.2 634.0,2041.7 635.4,2042.1 637.0,2042.5 638.7,2042.8 640.4,2043.1 642.2,2043.3 644.0,2043.5 645.9,2043.6 647.7,2043.6 649.6,2043.6 651.5,2043.5 653.3,2043.4 655.1,2043.2 656.8,2042.9 658.4,2042.6 660.0,2042.2 661.5,2041.8 662.9,2041.4" fill="#570057" opacity="0.22"/>
<polygon points="666.1,1543.9 667.3,1543.5 668.3,1543.2 669.2,1542.8 670.0,1542.4 670.5,1542.0 670.9,1541.6 671.2,1541.1 671.2,1540.7 671.1,1540.3 670.9,1539.9 670.4,1539.4 669.8,1539.0 669.1,1538.6 668.1,1538.2 667.1,1537.9 665.9,1537.5 664.6,1537.2 663.1,1536.9 661.6,1536.6 659.9,1536.4 658.2,1536.2 656.4,1536.0 654.5,1535.9 652.6,1535.8 650.7,1535.7 648.8,1535.7 646.8,1535.7 644.9,1535.7 643.0,1535.8 641.2,1535.9 639.4,1536.1 637.7,1536.3 636.0,1536.5 634.5,1536.7 633.0,1537.0 631.7,1537.3 630.5,1537.7 629.5,1538.0 628.6,1538.4 627.8,1538.8 627.2,1539.2 626.8,1539.6 626.6,1540.0 626.5,1540.4 626.5,1540.9 626.8,1541.3 627.2,1541.7 627.8,1542.1 628.5,1542.5 629.4,1542.9 630.5,1543.3 631.7,1543.6 633.0,1544.0 634.4,1544.3 636.0,1544.5 637.7,1544.8 639.4,1545.0 641.2,1545.2 643.1,1545.3 645.0,1545.4 647.0,1545.5 648.9,1545.5 650.9,1545.5 652.8,1545.5 654.8,1545.4 656.6,1545.3 658.4,1545.1 660.2,1544.9 661.8,1544.7 663.4,1544.4 664.8,1544.2" fill="#8a338a" fill-opacity="0.12" stroke="#3c003c" stroke-width="1" stroke-opacity="0.45"/>
<g opacity="0.65">
<polygon points="676.3,2051.5 679.0,1552.0 679.0,1551.5 679.3,1551.1 679.7,1550.7 680.2,1550.3 681.0,1549.9 681.9,1549.5 682.9,1549.1 684.1,1548.8 685.4,1548.5 686.8,1548.2 688.4,1547.9 690.0,1547.7 691.7,1547.5 693.5,1547.4 695.4,1547.2 697.3,1547.1 699.3,1547.1 701.2,1547.1 703.2,1547.1 705.1,1547.2 707.1,1547.3 709.0,1547.4 710.8,1547.6 712.6,1547.8 714.2,1548.1 715.8,1548.4 717.3,1548.7 718.7,1549.0 719.9,1549.3 721.0,1549.7 722.0,1550.1 722.8,1550.5 723.4,1551.0 723.9,1551.4 724.2,1551.8 724.4,1552.3 719.5,2051.7 719.4,2052.4 719.2,2053.1 718.9,2053.8 718.4,2054.5 717.7,2055.2 716.9,2055.8 715.9,2056.4 714.8,2057.0 713.5,2057.5 712.1,2058.0 710.7,2058.4 709.1,2058.8 707.4,2059.1 705.7,2059.4 703.9,2059.6 702.1,2059.7 700.2,2059.8 698.3,2059.8 696.4,2059.8 694.5,2059.7 692.7,2059.5 690.8,2059.3 689.1,2059.0 687.4,2058.6 685.8,2058.2 684.3,2057.8 682.8,2057.3 681.5,2056.8 680.4,2056.2 679.3,2055.6 678.4,2054.9 677.7,2054.3 677.1,2053.6 676.7,2052.9 676.4,2052.2" fill="#1111e8"/>
</g>
<polygon points="714.8,2057.0 715.9,2056.4 716.9,2055.8 717.7,2055.2 718.4,2054.5 718.9,2053.8 719.2,2053.1 719.4,2052.4 719.5,2051.7 719.4,2051.0 719.1,2050.3 718.6,2049.6 718.0,2048.9 717.2,2048.3 716.3,2047.7 715.3,2047.1 714.1,2046.5 712.8,2046.0 711.4,2045.5 709.9,2045.0 708.3,2044.6 706.6,2044.3 704.9,2044.0 703.1,2043.8 701.2,2043.7 699.4,2043.5 697.5,2043.5 695.6,2043.5 693.8,2043.6 692.0,2043.7 690.2,2043.9 688.5,2044.2 686.8,2044.5 685.3,2044.9 683.8,2045.3 682.4,2045.8 681.2,2046.3 680.1,2046.8 679.1,2047.4 678.2,2048.0 677.5,2048.7 677.0,2049.4 676.6,2050.1 676.4,2050.8 676.3,2051.5 676.4,2052.2 676.7,2052.9 677.1,2053.6 677.7,2054.3 678.4,2054.9 679.3,2055.6 680.4,2056.2 681.5,2056.8 682.8,2057.3 684.3,2057.8 685.8,2058.2 687.4,2058.6 689.1,2059.0 690.8,2059.3 692.7,2059.5 694.5,2059.7 696.4,2059.8 698.3,2059.8 700.2,2059.8 702.1,2059.7 703.9,2059.6 705.7,2059.4 707.4,2059.1 709.1,2058.8 710.7,2058.4 712.1,2058.0 713.5,2057.5" fill="#0e0eba" opacity="0.22"/>
<polygon points="719.4,1555.5 720.6,1555.2 721.6,1554.8 722.5,1554.4 723.2,1554.0 723.7,1553.6 724.1,1553.1 724.3,1552.7 724.4,1552.3 724.2,1551.8 723.9,1551.4 723.4,1551.0 722.8,1550.5 722.0,1550.1 721.0,1549.7 719.9,1549.3 718.7,1549.0 717.3,1548.7 715.8,1548.4 714.2,1548.1 712.6,1547.8 710.8,1547.6 709.0,1547.4 707.1,1547.3 705.1,1547.2 703.2,1547.1 701.2,1547.1 699.3,1547.1 697.3,1547.1 695.4,1547.2 693.5,1547.4 691.7,1547.5 690.0,1547.7 688.4,1547.9 686.8,1548.2 685.4,1548.5 684.1,1548.8 682.9,1549.1 681.9,1549.5 681.0,1549.9 680.2,1550.3 679.7,1550.7 679.3,1551.1 679.0,1551.5 679.0,1552.0 679.1,1552.4 679.4,1552.9 679.8,1553.3 680.4,1553.7 681.2,1554.1 682.2,1554.5 683.3,1554.9 684.5,1555.3 685.9,1555.6 687.3,1555.9 688.9,1556.2 690.6,1556.5 692.4,1556.7 694.3,1556.9 696.2,1557.0 698.1,1557.1 700.1,1557.2 702.1,1557.2 704.1,1557.2 706.1,1557.2 708.0,1557.1 709.9,1557.0 711.7,1556.8 713.5,1556.6 715.1,1556.4 716.7,1556.1 718.1,1555.8" fill="#4141ed" fill-opacity="0.12" stroke="#090980" stroke-width="1" stroke-opacity="0.45"/>
<g opacity="0.65">
<polygon points="727.6,2067.9 733.0,1559.8 733.0,1559.3 733.2,1558.9 733.6,1558.4 734.1,1558.0 734.8,1557.6 735.7,1557.2 736.7,1556.8 737.9,1556.5 739.2,1556.2 740.6,1555.9 742.2,1555.6 743.8,1555.4 745.6,1555.2 747.4,1555.0 749.3,1554.9 751.2,1554.8 753.2,1554.8 755.2,1554.7 757.1,1554.8 759.1,1554.9 761.1,1555.0 763.0,1555.1 764.9,1555.3 766.7,1555.5 768.4,1555.8 770.1,1556.0 771.6,1556.3 773.0,1556.7 774.3,1557.1 775.4,1557.4 776.4,1557.8 777.3,1558.3 778.0,1558.7 778.5,1559.1 778.8,1559.6 779.0,1560.0 779.0,1560.5 771.3,2068.9 771.1,2069.6 770.8,2070.3 770.3,2071.0 769.6,2071.7 768.8,2072.3 767.9,2072.9 766.8,2073.5 765.5,2074.0 764.2,2074.5 762.7,2075.0 761.1,2075.4 759.4,2075.7 757.7,2076.0 755.9,2076.2 754.0,2076.3 752.1,2076.4 750.2,2076.4 748.3,2076.4 746.4,2076.3 744.5,2076.1 742.6,2075.9 740.8,2075.6 739.1,2075.2 737.5,2074.8 735.9,2074.4 734.4,2073.8 733.1,2073.3 731.9,2072.7 730.8,2072.1 729.9,2071.4 729.1,2070.7 728.5,2070.0 728.0,2069.3 727.7,2068.6" fill="#00e8ab"/>
</g>
<polygon points="766.8,2073.5 767.9,2072.9 768.8,2072.3 769.6,2071.7 770.3,2071.0 770.8,2070.3 771.1,2069.6 771.3,2068.9 771.3,2068.1 771.2,2067.4 770.8,2066.7 770.3,2066.0 769.7,2065.3 768.9,2064.6 767.9,2063.9 766.9,2063.3 765.6,2062.7 764.3,2062.2 762.9,2061.7 761.3,2061.3 759.7,2060.9 758.0,2060.5 756.2,2060.2 754.4,2060.0 752.5,2059.8 750.6,2059.7 748.7,2059.7 746.8,2059.7 744.9,2059.8 743.1,2059.9 741.3,2060.1 739.6,2060.4 737.9,2060.7 736.4,2061.1 734.9,2061.5 733.5,2062.0 732.3,2062.5 731.2,2063.1 730.2,2063.7 729.4,2064.4 728.7,2065.0 728.2,2065.7 727.8,2066.4 727.6,2067.1 727.6,2067.9 727.7,2068.6 728.0,2069.3 728.5,2070.0 729.1,2070.7 729.9,2071.4 730.8,2072.1 731.9,2072.7 733.1,2073.3 734.4,2073.8 735.9,2074.4 737.5,2074.8 739.1,2075.2 740.8,2075.6 742.6,2075.9 744.5,2076.1 746.4,2076.3 748.3,2076.4 750.2,2076.4 752.1,2076.4 754.0,2076.3 755.9,2076.2 757.7,2076.0 759.4,2075.7 761.1,2075.4 762.7,2075.0 764.2,2074.5 765.5,2074.0" fill="#00ba89" opacity="0.22"/>
<polygon points="774.2,1563.4 775.4,1563.0 776.4,1562.6 777.3,1562.2 777.9,1561.8 778.5,1561.4 778.8,1560.9 779.0,1560.5 779.0,1560.0 778.8,1559.6 778.5,1559.1 778.0,1558.7 777.3,1558.3 776.4,1557.8 775.4,1557.4 774.3,1557.1 773.0,1556.7 771.6,1556.3 770.1,1556.0 768.4,1555.8 766.7,1555.5 764.9,1555.3 763.0,1555.1 761.1,1555.0 759.1,1554.9 757.1,1554.8 755.2,1554.7 753.2,1554.8 751.2,1554.8 749.3,1554.9 747.4,1555.0 745.6,1555.2 743.8,1555.4 742.2,1555.6 740.6,1555.9 739.2,1556.2 737.9,1556.5 736.7,1556.8 735.7,1557.2 734.8,1557.6 734.1,1558.0 733.6,1558.4 733.2,1558.9 733.0,1559.3 733.0,1559.8 733.1,1560.2 733.4,1560.7 733.9,1561.1 734.6,1561.6 735.4,1562.0 736.4,1562.4 737.5,1562.8 738.8,1563.1 740.2,1563.5 741.8,1563.8 743.4,1564.1 745.1,1564.4 747.0,1564.6 748.9,1564.8 750.8,1564.9 752.8,1565.0 754.8,1565.1 756.8,1565.1 758.8,1565.1 760.8,1565.1 762.8,1565.0 764.7,1564.9 766.5,1564.7 768.3,1564.5 769.9,1564.3 771.5,1564.0 772.9,1563.7" fill="#33edbc" fill-opacity="0.12" stroke="#00805e" stroke-width="1" stroke-opacity="0.45"/>
<g opacity="0.65">
<polygon points="834.9,1582.9 824.6,2085.7 824.4,2086.5 824.1,2087.2 823.6,2087.9 823.0,2088.6 822.2,2089.3 821.3,2089.9 820.2,2090.5 818.9,2091.0 817.6,2091.5 816.1,2092.0 814.5,2092.4 812.8,2092.7 811.1,2093.0 809.2,2093.2 807.4,2093.4 805.5,2093.5 803.5,2093.5 801.6,2093.4 799.6,2093.3 797.7,2093.2 795.8,2092.9 794.0,2092.6 792.2,2092.3 790.5,2091.8 788.9,2091.4 787.4,2090.8 786.1,2090.3 784.8,2089.7 783.7,2089.0 782.7,2088.4 781.9,2087.7 781.2,2086.9 780.7,2086.2 780.4,2085.4 780.2,2084.7 780.2,2083.9 788.3,1581.6 788.4,1581.2 788.8,1580.7 789.3,1580.3 790.0,1579.8 790.9,1579.4 791.9,1579.0 793.0,1578.7 794.3,1578.3 795.7,1578.0 797.3,1577.8 798.9,1577.5 800.7,1577.3 802.5,1577.1 804.4,1577.0 806.4,1576.9 808.3,1576.9 810.4,1576.9 812.4,1576.9 814.4,1577.0 816.4,1577.1 818.3,1577.2 820.3,1577.4 822.1,1577.7 823.9,1577.9 825.5,1578.2 827.1,1578.5 828.6,1578.9 829.9,1579.3 831.1,1579.7 832.1,1580.1 833.0,1580.5 833.7,1581.0 834.3,1581.4 834.7,1581.9 834.9,1582.4" fill="#abe800"/>
</g>
<polygon points="820.2,2090.5 821.3,2089.9 822.2,2089.3 823.0,2088.6 823.6,2087.9 824.1,2087.2 824.4,2086.5 824.6,2085.7 824.5,2085.0 824.3,2084.2 824.0,2083.5 823.5,2082.7 822.8,2082.0 821.9,2081.3 820.9,2080.7 819.8,2080.0 818.6,2079.4 817.2,2078.9 815.7,2078.4 814.1,2077.9 812.4,2077.5 810.7,2077.2 808.9,2076.9 807.0,2076.6 805.1,2076.5 803.2,2076.3 801.3,2076.3 799.3,2076.3 797.5,2076.4 795.6,2076.6 793.8,2076.8 792.1,2077.0 790.4,2077.4 788.8,2077.8 787.3,2078.2 786.0,2078.7 784.8,2079.2 783.7,2079.8 782.7,2080.4 781.9,2081.1 781.2,2081.8 780.7,2082.5 780.4,2083.2 780.2,2083.9 780.2,2084.7 780.4,2085.4 780.7,2086.2 781.2,2086.9 781.9,2087.7 782.7,2088.4 783.7,2089.0 784.8,2089.7 786.1,2090.3 787.4,2090.8 788.9,2091.4 790.5,2091.8 792.2,2092.3 794.0,2092.6 795.8,2092.9 797.7,2093.2 799.6,2093.3 801.6,2093.4 803.5,2093.5 805.5,2093.5 807.4,2093.4 809.2,2093.2 811.1,2093.0 812.8,2092.7 814.5,2092.4 816.1,2092.0 817.6,2091.5 818.9,2091.0" fill="#89ba00" opacity="0.22"/>
<polygon points="830.3,1585.9 831.5,1585.5 832.5,1585.1 833.3,1584.7 834.0,1584.2 834.5,1583.8 834.8,1583.3 834.9,1582.9 834.9,1582.4 834.7,1581.9 834.3,1581.4 833.7,1581.0 833.0,1580.5 832.1,1580.1 831.1,1579.7 829.9,1579.3 828.6,1578.9 827.1,1578.5 825.5,1578.2 823.9,1577.9 822.1,1577.7 820.3,1577.4 818.3,1577.2 816.4,1577.1 814.4,1577.0 812.4,1576.9 810.4,1576.9 808.3,1576.9 806.4,1576.9 804.4,1577.0 802.5,1577.1 800.7,1577.3 798.9,1577.5 797.3,1577.8 795.7,1578.0 794.3,1578.3 793.0,1578.7 791.9,1579.0 790.9,1579.4 790.0,1579.8 789.3,1580.3 788.8,1580.7 788.4,1581.2 788.3,1581.6 788.3,1582.1 788.5,1582.6 788.8,1583.0 789.4,1583.5 790.1,1584.0 790.9,1584.4 792.0,1584.8 793.1,1585.2 794.5,1585.6 795.9,1586.0 797.5,1586.3 799.2,1586.6 801.0,1586.9 802.8,1587.1 804.7,1587.3 806.7,1587.5 808.8,1587.6 810.8,1587.7 812.8,1587.7 814.9,1587.7 816.9,1587.6 818.9,1587.6 820.8,1587.4 822.6,1587.2 824.4,1587.0 826.1,1586.8 827.6,1586.5 829.0,1586.2" fill="#bced33" fill-opacity="0.12" stroke="#5e8000" stroke-width="1" stroke-opacity="0.45"/>
<g opacity="0.65">
<polygon points="892.7,1592.3 879.3,2103.0 879.2,2103.8 878.9,2104.6 878.4,2105.3 877.8,2106.0 877.0,2106.7 876.1,2107.3 875.0,2107.9 873.8,2108.5 872.4,2109.0 870.9,2109.5 869.4,2109.9 867.7,2110.2 865.9,2110.5 864.1,2110.8 862.2,2110.9 860.2,2111.0 858.3,2111.0 856.3,2111.0 854.3,2110.9 852.4,2110.7 850.4,2110.4 848.6,2110.1 846.8,2109.8 845.0,2109.3 843.4,2108.8 841.9,2108.3 840.4,2107.7 839.1,2107.1 838.0,2106.4 837.0,2105.7 836.1,2105.0 835.4,2104.3 834.9,2103.5 834.5,2102.8 834.3,2102.0 834.2,2101.2 845.3,1591.1 845.4,1590.6 845.7,1590.1 846.2,1589.7 846.9,1589.2 847.7,1588.8 848.7,1588.4 849.9,1588.0 851.2,1587.7 852.6,1587.4 854.1,1587.1 855.8,1586.8 857.5,1586.6 859.4,1586.5 861.3,1586.3 863.2,1586.2 865.3,1586.2 867.3,1586.2 869.4,1586.2 871.4,1586.3 873.4,1586.4 875.4,1586.5 877.4,1586.7 879.3,1587.0 881.1,1587.2 882.8,1587.5 884.4,1587.9 885.9,1588.2 887.3,1588.6 888.5,1589.0 889.6,1589.5 890.6,1589.9 891.3,1590.4 891.9,1590.9 892.4,1591.4 892.6,1591.8" fill="#e88c00"/>
</g>
<polygon points="875.0,2107.9 876.1,2107.3 877.0,2106.7 877.8,2106.0 878.4,2105.3 878.9,2104.6 879.2,2103.8 879.3,2103.0 879.2,2102.3 879.0,2101.5 878.6,2100.7 878.0,2100.0 877.3,2099.2 876.4,2098.5 875.4,2097.8 874.2,2097.2 872.9,2096.6 871.5,2096.0 869.9,2095.5 868.3,2095.0 866.6,2094.6 864.8,2094.2 863.0,2093.9 861.1,2093.7 859.1,2093.5 857.2,2093.4 855.2,2093.4 853.3,2093.4 851.4,2093.5 849.5,2093.6 847.7,2093.8 845.9,2094.1 844.3,2094.5 842.7,2094.9 841.2,2095.3 839.9,2095.8 838.6,2096.4 837.5,2097.0 836.6,2097.6 835.8,2098.3 835.2,2099.0 834.7,2099.7 834.4,2100.5 834.2,2101.2 834.3,2102.0 834.5,2102.8 834.9,2103.5 835.4,2104.3 836.1,2105.0 837.0,2105.7 838.0,2106.4 839.1,2107.1 840.4,2107.7 841.9,2108.3 843.4,2108.8 845.0,2109.3 846.8,2109.8 848.6,2110.1 850.4,2110.4 852.4,2110.7 854.3,2110.9 856.3,2111.0 858.3,2111.0 860.2,2111.0 862.2,2110.9 864.1,2110.8 865.9,2110.5 867.7,2110.2 869.4,2109.9 870.9,2109.5 872.4,2109.0 873.8,2108.5" fill="#ba7000" opacity="0.22"/>
<polygon points="888.3,1595.4 889.4,1595.0 890.4,1594.6 891.2,1594.2 891.8,1593.7 892.3,1593.3 892.6,1592.8 892.7,1592.3 892.6,1591.8 892.4,1591.4 891.9,1590.9 891.3,1590.4 890.6,1589.9 889.6,1589.5 888.5,1589.0 887.3,1588.6 885.9,1588.2 884.4,1587.9 882.8,1587.5 881.1,1587.2 879.3,1587.0 877.4,1586.7 875.4,1586.5 873.4,1586.4 871.4,1586.3 869.4,1586.2 867.3,1586.2 865.3,1586.2 863.2,1586.2 861.3,1586.3 859.4,1586.5 857.5,1586.6 855.8,1586.8 854.1,1587.1 852.6,1587.4 851.2,1587.7 849.9,1588.0 848.7,1588.4 847.7,1588.8 846.9,1589.2 846.2,1589.7 845.7,1590.1 845.4,1590.6 845.3,1591.1 845.3,1591.6 845.6,1592.0 846.0,1592.5 846.5,1593.0 847.3,1593.5 848.2,1593.9 849.3,1594.4 850.5,1594.8 851.9,1595.2 853.4,1595.5 855.0,1595.9 856.7,1596.2 858.5,1596.5 860.5,1596.7 862.4,1596.9 864.5,1597.1 866.5,1597.2 868.6,1597.3 870.7,1597.3 872.7,1597.3 874.8,1597.2 876.8,1597.1 878.7,1597.0 880.6,1596.8 882.3,1596.6 884.0,1596.4 885.6,1596.1 887.0,1595.8" fill="#eda333" fill-opacity="0.12" stroke="#804d00" stroke-width="1" stroke-opacity="0.45"/>
<g opacity="0.65">
<polygon points="889.8,2119.0 904.0,1598.4 904.1,1597.9 904.4,1597.4 904.9,1596.9 905.5,1596.5 906.3,1596.0 907.3,1595.6 908.4,1595.2 909.7,1594.9 911.1,1594.6 912.7,1594.3 914.3,1594.0 916.1,1593.8 918.0,1593.6 919.9,1593.5 921.9,1593.4 923.9,1593.4 926.0,1593.3 928.1,1593.4 930.1,1593.5 932.2,1593.6 934.3,1593.7 936.2,1593.9 938.2,1594.2 940.0,1594.4 941.8,1594.8 943.5,1595.1 945.0,1595.5 946.5,1595.9 947.7,1596.3 948.9,1596.7 949.9,1597.2 950.7,1597.7 951.3,1598.2 951.8,1598.7 952.1,1599.2 952.2,1599.6 935.5,2120.8 935.4,2121.6 935.1,2122.4 934.7,2123.1 934.1,2123.9 933.4,2124.6 932.4,2125.2 931.4,2125.9 930.2,2126.4 928.8,2127.0 927.3,2127.5 925.7,2127.9 924.0,2128.2 922.3,2128.5 920.4,2128.8 918.5,2128.9 916.5,2129.0 914.5,2129.0 912.5,2129.0 910.5,2128.9 908.5,2128.7 906.6,2128.4 904.7,2128.1 902.8,2127.7 901.0,2127.3 899.4,2126.8 897.8,2126.2 896.3,2125.6 895.0,2125.0 893.8,2124.3 892.7,2123.6 891.8,2122.9 891.1,2122.1 890.5,2121.3 890.1,2120.5 889.8,2119.8" fill="#e80000"/>
</g>
<polygon points="931.4,2125.9 932.4,2125.2 933.4,2124.6 934.1,2123.9 934.7,2123.1 935.1,2122.4 935.4,2121.6 935.5,2120.8 935.4,2120.0 935.1,2119.2 934.7,2118.5 934.1,2117.7 933.3,2116.9 932.4,2116.2 931.3,2115.5 930.1,2114.8 928.7,2114.2 927.3,2113.6 925.7,2113.1 924.0,2112.6 922.2,2112.1 920.4,2111.8 918.5,2111.5 916.6,2111.2 914.6,2111.0 912.7,2110.9 910.7,2110.9 908.7,2110.9 906.8,2111.0 904.9,2111.1 903.1,2111.4 901.3,2111.7 899.6,2112.0 898.0,2112.4 896.6,2112.9 895.2,2113.4 894.0,2114.0 892.9,2114.6 892.0,2115.2 891.2,2115.9 890.6,2116.7 890.1,2117.4 889.9,2118.2 889.8,2119.0 889.8,2119.8 890.1,2120.5 890.5,2121.3 891.1,2122.1 891.8,2122.9 892.7,2123.6 893.8,2124.3 895.0,2125.0 896.3,2125.6 897.8,2126.2 899.4,2126.8 901.0,2127.3 902.8,2127.7 904.7,2128.1 906.6,2128.4 908.5,2128.7 910.5,2128.9 912.5,2129.0 914.5,2129.0 916.5,2129.0 918.5,2128.9 920.4,2128.8 922.3,2128.5 924.0,2128.2 925.7,2127.9 927.3,2127.5 928.8,2127.0 930.2,2126.4" fill="#ba0000" opacity="0.22"/>
<polygon points="948.0,1602.8 949.1,1602.4 950.0,1602.0 950.8,1601.6 951.5,1601.1 951.9,1600.6 952.1,1600.1 952.2,1599.6 952.1,1599.2 951.8,1598.7 951.3,1598.2 950.7,1597.7 949.9,1597.2 948.9,1596.7 947.7,1596.3 946.5,1595.9 945.0,1595.5 943.5,1595.1 941.8,1594.8 940.0,1594.4 938.2,1594.2 936.2,1593.9 934.3,1593.7 932.2,1593.6 930.1,1593.5 928.1,1593.4 926.0,1593.3 923.9,1593.4 921.9,1593.4 919.9,1593.5 918.0,1593.6 916.1,1593.8 914.3,1594.0 912.7,1594.3 911.1,1594.6 909.7,1594.9 908.4,1595.2 907.3,1595.6 906.3,1596.0 905.5,1596.5 904.9,1596.9 904.4,1597.4 904.1,1597.9 904.0,1598.4 904.1,1598.9 904.4,1599.4 904.8,1599.9 905.4,1600.3 906.2,1600.8 907.2,1601.3 908.3,1601.7 909.6,1602.2 911.0,1602.6 912.6,1603.0 914.3,1603.3 916.0,1603.6 917.9,1603.9 919.9,1604.1 921.9,1604.4 923.9,1604.5 926.0,1604.6 928.2,1604.7 930.3,1604.8 932.4,1604.7 934.4,1604.7 936.5,1604.6 938.4,1604.5 940.3,1604.3 942.1,1604.1 943.7,1603.8 945.3,1603.5 946.7,1603.2" fill="#ed3333" fill-opacity="0.12" stroke="#800000" stroke-width="1" stroke-opacity="0.45"/>
<text x="498.6" y="1507.4" fill="#111" font-size="23" font-weight="bold" text-anchor="middle">48.08</text>
<text x="547.4" y="1517.5" fill="#111" font-size="23" font-weight="bold" text-anchor="middle">48</text>
<text x="597.4" y="1520.4" fill="#111" font-size="23" font-weight="bold" text-anchor="middle">48.62</text>
<text x="648.9" y="1534.6" fill="#111" font-size="23" font-weight="bold" text-anchor="middle">48.21</text>
<text x="701.7" y="1546.1" fill="#111" font-size="23" font-weight="bold" text-anchor="middle">48.07</text>
<text x="756.0" y="1553.9" fill="#111" font-size="23" font-weight="bold" text-anchor="middle">48.3</text>
<text x="811.6" y="1576.2" fill="#111" font-size="23" font-weight="bold" text-anchor="middle">47.25</text>
<text x="869.0" y="1585.7" fill="#111" font-size="23" font-weight="bold" text-anchor="middle">47.39</text>
<text x="928.1" y="1593.0" fill="#111" font-size="23" font-weight="bold" text-anchor="middle">47.74</text>
<text transform="translate(159.5,2074.8) scale(1.0,1)" font-size="37" text-anchor="end">0</text>
<text transform="translate(154.8,1974.6) scale(0.85,1)" font-size="37" text-anchor="end">10</text>
<text transform="translate(150.1,1872.2) scale(0.85,1)" font-size="37" text-anchor="end">20</text>
<text transform="translate(145.2,1767.7) scale(0.85,1)" font-size="37" text-anchor="end">30</text>
<text transform="translate(140.3,1661.0) scale(0.85,1)" font-size="37" text-anchor="end">40</text>
<text transform="translate(135.2,1552.0) scale(0.85,1)" font-size="37" text-anchor="end">50</text>
<text transform="translate(130.0,1440.6) scale(0.85,1)" font-size="37" text-anchor="end">60</text>
<clipPath id="clipT2"><rect x="0" y="0" width="1185" height="2380"/></clipPath><g clip-path="url(#clipT2)">
<text transform="matrix(0.927,-0.375,0.342,0.94,205.3,2079.3)" font-size="27" text-anchor="end">T1</text>
<text transform="matrix(0.930,-0.367,0.342,0.94,231.3,2104.3)" font-size="27" text-anchor="end" textLength="238" lengthAdjust="spacingAndGlyphs">T2  (10mm 1mm)</text>
<text transform="matrix(0.928,-0.374,0.342,0.94,280.7,2121.3)" font-size="27" text-anchor="end" textLength="240" lengthAdjust="spacingAndGlyphs">T3  (10mm 2mm)</text>
<text transform="matrix(0.925,-0.381,0.342,0.94,331.4,2138.8)" font-size="27" text-anchor="end" textLength="242" lengthAdjust="spacingAndGlyphs">T4  (10mm 3mm)</text>
<text transform="matrix(0.922,-0.388,0.342,0.94,383.4,2156.8)" font-size="27" text-anchor="end" textLength="244" lengthAdjust="spacingAndGlyphs">T5  (15mm 1mm)</text>
<text transform="matrix(0.919,-0.395,0.342,0.94,436.9,2175.3)" font-size="27" text-anchor="end" textLength="246" lengthAdjust="spacingAndGlyphs">T6  (15mm 2mm)</text>
<text transform="matrix(0.916,-0.402,0.342,0.94,491.8,2194.4)" font-size="27" text-anchor="end" textLength="248" lengthAdjust="spacingAndGlyphs">T7  (15mm 3mm)</text>
<text transform="matrix(0.913,-0.409,0.342,0.94,548.3,2214.0)" font-size="27" text-anchor="end" textLength="250" lengthAdjust="spacingAndGlyphs">T8  (20mm 1mm)</text>
<text transform="matrix(0.910,-0.416,0.342,0.94,606.4,2234.3)" font-size="27" text-anchor="end" textLength="252" lengthAdjust="spacingAndGlyphs">T9  (20mm 2mm)</text>
<text transform="matrix(0.906,-0.423,0.342,0.94,666.2,2255.1)" font-size="27" text-anchor="end" textLength="264" lengthAdjust="spacingAndGlyphs">T10  (20mm 3mm)</text>
</g>
<text x="809.1" y="2219.9" font-size="24" font-style="italic" text-anchor="middle">0</text>
<text x="958.6" y="2140.5" font-size="24" font-style="italic" text-anchor="middle">1</text>
<text x="1091.6" y="2069.7" font-size="24" font-style="italic" text-anchor="middle">2</text>
<text transform="matrix(0.891,-0.454,0.259,0.966,821.7,2260.0)" font-size="50" stroke="#000" stroke-width="1.1" textLength="400" lengthAdjust="spacingAndGlyphs">The number of reinforced layers</text>
<text transform="translate(60,1513) rotate(87.6)" font-size="40" textLength="452" lengthAdjust="spacing">Internal friction angle(°)</text>
<text x="586" y="1193" font-size="59" text-anchor="middle">Cohesion <tspan font-style="italic">c</tspan></text>
<text x="595" y="2482" font-size="59" text-anchor="middle">Internal friction angle <tspan font-style="italic">φ</tspan></text>
</svg></body></html>
